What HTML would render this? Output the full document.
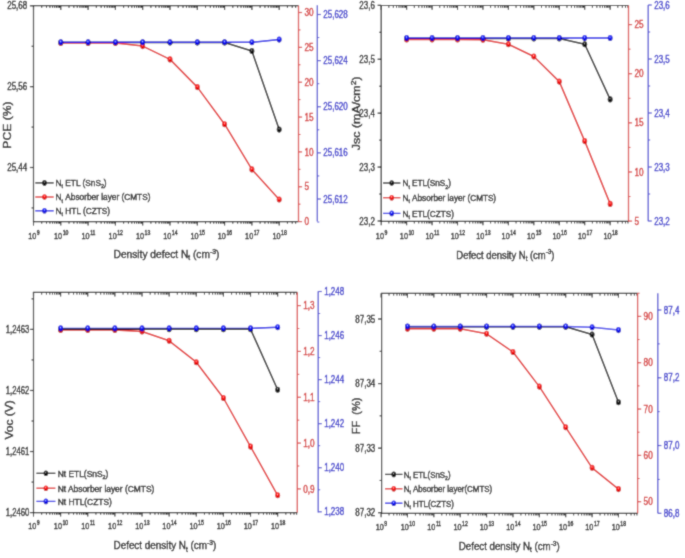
<!DOCTYPE html>
<html><head><meta charset="utf-8"><title>Defect density plots</title>
<style>
html,body{margin:0;padding:0;background:#fff;}
body{width:685px;height:558px;overflow:hidden;}
svg{display:block;font-family:"Liberation Sans", Arial, sans-serif;}
</style></head>
<body>
<svg width="685" height="558" viewBox="0 0 685 558">
<defs><filter id="cv" x="0" y="0" width="685" height="558" filterUnits="userSpaceOnUse"><feConvolveMatrix order="3" kernelMatrix="0.03 0.1 0.03 0.1 0.48 0.1 0.03 0.1 0.03" edgeMode="duplicate"/></filter><radialGradient id="blu" cx="0.5" cy="0.4" r="0.6" fx="0.45" fy="0.32"><stop offset="0" stop-color="#b0c8ff"/><stop offset="0.35" stop-color="#1a1aff"/><stop offset="1" stop-color="#0000b0"/></radialGradient><radialGradient id="red" cx="0.5" cy="0.4" r="0.6" fx="0.45" fy="0.32"><stop offset="0" stop-color="#ffb0b0"/><stop offset="0.35" stop-color="#ff1a1a"/><stop offset="1" stop-color="#c00000"/></radialGradient><radialGradient id="blk" cx="0.5" cy="0.4" r="0.6" fx="0.45" fy="0.32"><stop offset="0" stop-color="#a0a0a0"/><stop offset="0.35" stop-color="#1a1a1a"/><stop offset="1" stop-color="#000000"/></radialGradient></defs>
<g filter="url(#cv)"><rect width="685" height="558" fill="#fff"/>
<line x1="33.50" y1="5.60" x2="33.50" y2="221.60" stroke="#1a1a1a" stroke-width="1.2"/>
<line x1="32.90" y1="221.60" x2="298.50" y2="221.60" stroke="#1a1a1a" stroke-width="1.2"/>
<line x1="32.90" y1="5.60" x2="298.50" y2="5.60" stroke="#1a1a1a" stroke-width="1.2"/>
<line x1="33.50" y1="221.60" x2="33.50" y2="225.60" stroke="#1a1a1a" stroke-width="1.1"/>
<line x1="33.50" y1="5.60" x2="33.50" y2="9.90" stroke="#1a1a1a" stroke-width="1.1"/>
<line x1="41.72" y1="221.60" x2="41.72" y2="223.80" stroke="#1a1a1a" stroke-width="0.9"/>
<line x1="41.72" y1="5.60" x2="41.72" y2="8.00" stroke="#1a1a1a" stroke-width="0.9"/>
<line x1="46.53" y1="221.60" x2="46.53" y2="223.80" stroke="#1a1a1a" stroke-width="0.9"/>
<line x1="46.53" y1="5.60" x2="46.53" y2="8.00" stroke="#1a1a1a" stroke-width="0.9"/>
<line x1="49.94" y1="221.60" x2="49.94" y2="223.80" stroke="#1a1a1a" stroke-width="0.9"/>
<line x1="49.94" y1="5.60" x2="49.94" y2="8.00" stroke="#1a1a1a" stroke-width="0.9"/>
<line x1="52.58" y1="221.60" x2="52.58" y2="223.80" stroke="#1a1a1a" stroke-width="0.9"/>
<line x1="52.58" y1="5.60" x2="52.58" y2="8.00" stroke="#1a1a1a" stroke-width="0.9"/>
<line x1="54.74" y1="221.60" x2="54.74" y2="223.80" stroke="#1a1a1a" stroke-width="0.9"/>
<line x1="54.74" y1="5.60" x2="54.74" y2="8.00" stroke="#1a1a1a" stroke-width="0.9"/>
<line x1="56.57" y1="221.60" x2="56.57" y2="223.80" stroke="#1a1a1a" stroke-width="0.9"/>
<line x1="56.57" y1="5.60" x2="56.57" y2="8.00" stroke="#1a1a1a" stroke-width="0.9"/>
<line x1="58.15" y1="221.60" x2="58.15" y2="223.80" stroke="#1a1a1a" stroke-width="0.9"/>
<line x1="58.15" y1="5.60" x2="58.15" y2="8.00" stroke="#1a1a1a" stroke-width="0.9"/>
<line x1="59.55" y1="221.60" x2="59.55" y2="223.80" stroke="#1a1a1a" stroke-width="0.9"/>
<line x1="59.55" y1="5.60" x2="59.55" y2="8.00" stroke="#1a1a1a" stroke-width="0.9"/>
<line x1="60.80" y1="221.60" x2="60.80" y2="225.60" stroke="#1a1a1a" stroke-width="1.1"/>
<line x1="60.80" y1="5.60" x2="60.80" y2="9.90" stroke="#1a1a1a" stroke-width="1.1"/>
<line x1="69.02" y1="221.60" x2="69.02" y2="223.80" stroke="#1a1a1a" stroke-width="0.9"/>
<line x1="69.02" y1="5.60" x2="69.02" y2="8.00" stroke="#1a1a1a" stroke-width="0.9"/>
<line x1="73.83" y1="221.60" x2="73.83" y2="223.80" stroke="#1a1a1a" stroke-width="0.9"/>
<line x1="73.83" y1="5.60" x2="73.83" y2="8.00" stroke="#1a1a1a" stroke-width="0.9"/>
<line x1="77.24" y1="221.60" x2="77.24" y2="223.80" stroke="#1a1a1a" stroke-width="0.9"/>
<line x1="77.24" y1="5.60" x2="77.24" y2="8.00" stroke="#1a1a1a" stroke-width="0.9"/>
<line x1="79.88" y1="221.60" x2="79.88" y2="223.80" stroke="#1a1a1a" stroke-width="0.9"/>
<line x1="79.88" y1="5.60" x2="79.88" y2="8.00" stroke="#1a1a1a" stroke-width="0.9"/>
<line x1="82.04" y1="221.60" x2="82.04" y2="223.80" stroke="#1a1a1a" stroke-width="0.9"/>
<line x1="82.04" y1="5.60" x2="82.04" y2="8.00" stroke="#1a1a1a" stroke-width="0.9"/>
<line x1="83.87" y1="221.60" x2="83.87" y2="223.80" stroke="#1a1a1a" stroke-width="0.9"/>
<line x1="83.87" y1="5.60" x2="83.87" y2="8.00" stroke="#1a1a1a" stroke-width="0.9"/>
<line x1="85.45" y1="221.60" x2="85.45" y2="223.80" stroke="#1a1a1a" stroke-width="0.9"/>
<line x1="85.45" y1="5.60" x2="85.45" y2="8.00" stroke="#1a1a1a" stroke-width="0.9"/>
<line x1="86.85" y1="221.60" x2="86.85" y2="223.80" stroke="#1a1a1a" stroke-width="0.9"/>
<line x1="86.85" y1="5.60" x2="86.85" y2="8.00" stroke="#1a1a1a" stroke-width="0.9"/>
<line x1="88.10" y1="221.60" x2="88.10" y2="225.60" stroke="#1a1a1a" stroke-width="1.1"/>
<line x1="88.10" y1="5.60" x2="88.10" y2="9.90" stroke="#1a1a1a" stroke-width="1.1"/>
<line x1="96.32" y1="221.60" x2="96.32" y2="223.80" stroke="#1a1a1a" stroke-width="0.9"/>
<line x1="96.32" y1="5.60" x2="96.32" y2="8.00" stroke="#1a1a1a" stroke-width="0.9"/>
<line x1="101.13" y1="221.60" x2="101.13" y2="223.80" stroke="#1a1a1a" stroke-width="0.9"/>
<line x1="101.13" y1="5.60" x2="101.13" y2="8.00" stroke="#1a1a1a" stroke-width="0.9"/>
<line x1="104.54" y1="221.60" x2="104.54" y2="223.80" stroke="#1a1a1a" stroke-width="0.9"/>
<line x1="104.54" y1="5.60" x2="104.54" y2="8.00" stroke="#1a1a1a" stroke-width="0.9"/>
<line x1="107.18" y1="221.60" x2="107.18" y2="223.80" stroke="#1a1a1a" stroke-width="0.9"/>
<line x1="107.18" y1="5.60" x2="107.18" y2="8.00" stroke="#1a1a1a" stroke-width="0.9"/>
<line x1="109.34" y1="221.60" x2="109.34" y2="223.80" stroke="#1a1a1a" stroke-width="0.9"/>
<line x1="109.34" y1="5.60" x2="109.34" y2="8.00" stroke="#1a1a1a" stroke-width="0.9"/>
<line x1="111.17" y1="221.60" x2="111.17" y2="223.80" stroke="#1a1a1a" stroke-width="0.9"/>
<line x1="111.17" y1="5.60" x2="111.17" y2="8.00" stroke="#1a1a1a" stroke-width="0.9"/>
<line x1="112.75" y1="221.60" x2="112.75" y2="223.80" stroke="#1a1a1a" stroke-width="0.9"/>
<line x1="112.75" y1="5.60" x2="112.75" y2="8.00" stroke="#1a1a1a" stroke-width="0.9"/>
<line x1="114.15" y1="221.60" x2="114.15" y2="223.80" stroke="#1a1a1a" stroke-width="0.9"/>
<line x1="114.15" y1="5.60" x2="114.15" y2="8.00" stroke="#1a1a1a" stroke-width="0.9"/>
<line x1="115.40" y1="221.60" x2="115.40" y2="225.60" stroke="#1a1a1a" stroke-width="1.1"/>
<line x1="115.40" y1="5.60" x2="115.40" y2="9.90" stroke="#1a1a1a" stroke-width="1.1"/>
<line x1="123.62" y1="221.60" x2="123.62" y2="223.80" stroke="#1a1a1a" stroke-width="0.9"/>
<line x1="123.62" y1="5.60" x2="123.62" y2="8.00" stroke="#1a1a1a" stroke-width="0.9"/>
<line x1="128.43" y1="221.60" x2="128.43" y2="223.80" stroke="#1a1a1a" stroke-width="0.9"/>
<line x1="128.43" y1="5.60" x2="128.43" y2="8.00" stroke="#1a1a1a" stroke-width="0.9"/>
<line x1="131.84" y1="221.60" x2="131.84" y2="223.80" stroke="#1a1a1a" stroke-width="0.9"/>
<line x1="131.84" y1="5.60" x2="131.84" y2="8.00" stroke="#1a1a1a" stroke-width="0.9"/>
<line x1="134.48" y1="221.60" x2="134.48" y2="223.80" stroke="#1a1a1a" stroke-width="0.9"/>
<line x1="134.48" y1="5.60" x2="134.48" y2="8.00" stroke="#1a1a1a" stroke-width="0.9"/>
<line x1="136.64" y1="221.60" x2="136.64" y2="223.80" stroke="#1a1a1a" stroke-width="0.9"/>
<line x1="136.64" y1="5.60" x2="136.64" y2="8.00" stroke="#1a1a1a" stroke-width="0.9"/>
<line x1="138.47" y1="221.60" x2="138.47" y2="223.80" stroke="#1a1a1a" stroke-width="0.9"/>
<line x1="138.47" y1="5.60" x2="138.47" y2="8.00" stroke="#1a1a1a" stroke-width="0.9"/>
<line x1="140.05" y1="221.60" x2="140.05" y2="223.80" stroke="#1a1a1a" stroke-width="0.9"/>
<line x1="140.05" y1="5.60" x2="140.05" y2="8.00" stroke="#1a1a1a" stroke-width="0.9"/>
<line x1="141.45" y1="221.60" x2="141.45" y2="223.80" stroke="#1a1a1a" stroke-width="0.9"/>
<line x1="141.45" y1="5.60" x2="141.45" y2="8.00" stroke="#1a1a1a" stroke-width="0.9"/>
<line x1="142.70" y1="221.60" x2="142.70" y2="225.60" stroke="#1a1a1a" stroke-width="1.1"/>
<line x1="142.70" y1="5.60" x2="142.70" y2="9.90" stroke="#1a1a1a" stroke-width="1.1"/>
<line x1="150.92" y1="221.60" x2="150.92" y2="223.80" stroke="#1a1a1a" stroke-width="0.9"/>
<line x1="150.92" y1="5.60" x2="150.92" y2="8.00" stroke="#1a1a1a" stroke-width="0.9"/>
<line x1="155.73" y1="221.60" x2="155.73" y2="223.80" stroke="#1a1a1a" stroke-width="0.9"/>
<line x1="155.73" y1="5.60" x2="155.73" y2="8.00" stroke="#1a1a1a" stroke-width="0.9"/>
<line x1="159.14" y1="221.60" x2="159.14" y2="223.80" stroke="#1a1a1a" stroke-width="0.9"/>
<line x1="159.14" y1="5.60" x2="159.14" y2="8.00" stroke="#1a1a1a" stroke-width="0.9"/>
<line x1="161.78" y1="221.60" x2="161.78" y2="223.80" stroke="#1a1a1a" stroke-width="0.9"/>
<line x1="161.78" y1="5.60" x2="161.78" y2="8.00" stroke="#1a1a1a" stroke-width="0.9"/>
<line x1="163.94" y1="221.60" x2="163.94" y2="223.80" stroke="#1a1a1a" stroke-width="0.9"/>
<line x1="163.94" y1="5.60" x2="163.94" y2="8.00" stroke="#1a1a1a" stroke-width="0.9"/>
<line x1="165.77" y1="221.60" x2="165.77" y2="223.80" stroke="#1a1a1a" stroke-width="0.9"/>
<line x1="165.77" y1="5.60" x2="165.77" y2="8.00" stroke="#1a1a1a" stroke-width="0.9"/>
<line x1="167.35" y1="221.60" x2="167.35" y2="223.80" stroke="#1a1a1a" stroke-width="0.9"/>
<line x1="167.35" y1="5.60" x2="167.35" y2="8.00" stroke="#1a1a1a" stroke-width="0.9"/>
<line x1="168.75" y1="221.60" x2="168.75" y2="223.80" stroke="#1a1a1a" stroke-width="0.9"/>
<line x1="168.75" y1="5.60" x2="168.75" y2="8.00" stroke="#1a1a1a" stroke-width="0.9"/>
<line x1="170.00" y1="221.60" x2="170.00" y2="225.60" stroke="#1a1a1a" stroke-width="1.1"/>
<line x1="170.00" y1="5.60" x2="170.00" y2="9.90" stroke="#1a1a1a" stroke-width="1.1"/>
<line x1="178.22" y1="221.60" x2="178.22" y2="223.80" stroke="#1a1a1a" stroke-width="0.9"/>
<line x1="178.22" y1="5.60" x2="178.22" y2="8.00" stroke="#1a1a1a" stroke-width="0.9"/>
<line x1="183.03" y1="221.60" x2="183.03" y2="223.80" stroke="#1a1a1a" stroke-width="0.9"/>
<line x1="183.03" y1="5.60" x2="183.03" y2="8.00" stroke="#1a1a1a" stroke-width="0.9"/>
<line x1="186.44" y1="221.60" x2="186.44" y2="223.80" stroke="#1a1a1a" stroke-width="0.9"/>
<line x1="186.44" y1="5.60" x2="186.44" y2="8.00" stroke="#1a1a1a" stroke-width="0.9"/>
<line x1="189.08" y1="221.60" x2="189.08" y2="223.80" stroke="#1a1a1a" stroke-width="0.9"/>
<line x1="189.08" y1="5.60" x2="189.08" y2="8.00" stroke="#1a1a1a" stroke-width="0.9"/>
<line x1="191.24" y1="221.60" x2="191.24" y2="223.80" stroke="#1a1a1a" stroke-width="0.9"/>
<line x1="191.24" y1="5.60" x2="191.24" y2="8.00" stroke="#1a1a1a" stroke-width="0.9"/>
<line x1="193.07" y1="221.60" x2="193.07" y2="223.80" stroke="#1a1a1a" stroke-width="0.9"/>
<line x1="193.07" y1="5.60" x2="193.07" y2="8.00" stroke="#1a1a1a" stroke-width="0.9"/>
<line x1="194.65" y1="221.60" x2="194.65" y2="223.80" stroke="#1a1a1a" stroke-width="0.9"/>
<line x1="194.65" y1="5.60" x2="194.65" y2="8.00" stroke="#1a1a1a" stroke-width="0.9"/>
<line x1="196.05" y1="221.60" x2="196.05" y2="223.80" stroke="#1a1a1a" stroke-width="0.9"/>
<line x1="196.05" y1="5.60" x2="196.05" y2="8.00" stroke="#1a1a1a" stroke-width="0.9"/>
<line x1="197.30" y1="221.60" x2="197.30" y2="225.60" stroke="#1a1a1a" stroke-width="1.1"/>
<line x1="197.30" y1="5.60" x2="197.30" y2="9.90" stroke="#1a1a1a" stroke-width="1.1"/>
<line x1="205.52" y1="221.60" x2="205.52" y2="223.80" stroke="#1a1a1a" stroke-width="0.9"/>
<line x1="205.52" y1="5.60" x2="205.52" y2="8.00" stroke="#1a1a1a" stroke-width="0.9"/>
<line x1="210.33" y1="221.60" x2="210.33" y2="223.80" stroke="#1a1a1a" stroke-width="0.9"/>
<line x1="210.33" y1="5.60" x2="210.33" y2="8.00" stroke="#1a1a1a" stroke-width="0.9"/>
<line x1="213.74" y1="221.60" x2="213.74" y2="223.80" stroke="#1a1a1a" stroke-width="0.9"/>
<line x1="213.74" y1="5.60" x2="213.74" y2="8.00" stroke="#1a1a1a" stroke-width="0.9"/>
<line x1="216.38" y1="221.60" x2="216.38" y2="223.80" stroke="#1a1a1a" stroke-width="0.9"/>
<line x1="216.38" y1="5.60" x2="216.38" y2="8.00" stroke="#1a1a1a" stroke-width="0.9"/>
<line x1="218.54" y1="221.60" x2="218.54" y2="223.80" stroke="#1a1a1a" stroke-width="0.9"/>
<line x1="218.54" y1="5.60" x2="218.54" y2="8.00" stroke="#1a1a1a" stroke-width="0.9"/>
<line x1="220.37" y1="221.60" x2="220.37" y2="223.80" stroke="#1a1a1a" stroke-width="0.9"/>
<line x1="220.37" y1="5.60" x2="220.37" y2="8.00" stroke="#1a1a1a" stroke-width="0.9"/>
<line x1="221.95" y1="221.60" x2="221.95" y2="223.80" stroke="#1a1a1a" stroke-width="0.9"/>
<line x1="221.95" y1="5.60" x2="221.95" y2="8.00" stroke="#1a1a1a" stroke-width="0.9"/>
<line x1="223.35" y1="221.60" x2="223.35" y2="223.80" stroke="#1a1a1a" stroke-width="0.9"/>
<line x1="223.35" y1="5.60" x2="223.35" y2="8.00" stroke="#1a1a1a" stroke-width="0.9"/>
<line x1="224.60" y1="221.60" x2="224.60" y2="225.60" stroke="#1a1a1a" stroke-width="1.1"/>
<line x1="224.60" y1="5.60" x2="224.60" y2="9.90" stroke="#1a1a1a" stroke-width="1.1"/>
<line x1="232.82" y1="221.60" x2="232.82" y2="223.80" stroke="#1a1a1a" stroke-width="0.9"/>
<line x1="232.82" y1="5.60" x2="232.82" y2="8.00" stroke="#1a1a1a" stroke-width="0.9"/>
<line x1="237.63" y1="221.60" x2="237.63" y2="223.80" stroke="#1a1a1a" stroke-width="0.9"/>
<line x1="237.63" y1="5.60" x2="237.63" y2="8.00" stroke="#1a1a1a" stroke-width="0.9"/>
<line x1="241.04" y1="221.60" x2="241.04" y2="223.80" stroke="#1a1a1a" stroke-width="0.9"/>
<line x1="241.04" y1="5.60" x2="241.04" y2="8.00" stroke="#1a1a1a" stroke-width="0.9"/>
<line x1="243.68" y1="221.60" x2="243.68" y2="223.80" stroke="#1a1a1a" stroke-width="0.9"/>
<line x1="243.68" y1="5.60" x2="243.68" y2="8.00" stroke="#1a1a1a" stroke-width="0.9"/>
<line x1="245.84" y1="221.60" x2="245.84" y2="223.80" stroke="#1a1a1a" stroke-width="0.9"/>
<line x1="245.84" y1="5.60" x2="245.84" y2="8.00" stroke="#1a1a1a" stroke-width="0.9"/>
<line x1="247.67" y1="221.60" x2="247.67" y2="223.80" stroke="#1a1a1a" stroke-width="0.9"/>
<line x1="247.67" y1="5.60" x2="247.67" y2="8.00" stroke="#1a1a1a" stroke-width="0.9"/>
<line x1="249.25" y1="221.60" x2="249.25" y2="223.80" stroke="#1a1a1a" stroke-width="0.9"/>
<line x1="249.25" y1="5.60" x2="249.25" y2="8.00" stroke="#1a1a1a" stroke-width="0.9"/>
<line x1="250.65" y1="221.60" x2="250.65" y2="223.80" stroke="#1a1a1a" stroke-width="0.9"/>
<line x1="250.65" y1="5.60" x2="250.65" y2="8.00" stroke="#1a1a1a" stroke-width="0.9"/>
<line x1="251.90" y1="221.60" x2="251.90" y2="225.60" stroke="#1a1a1a" stroke-width="1.1"/>
<line x1="251.90" y1="5.60" x2="251.90" y2="9.90" stroke="#1a1a1a" stroke-width="1.1"/>
<line x1="260.12" y1="221.60" x2="260.12" y2="223.80" stroke="#1a1a1a" stroke-width="0.9"/>
<line x1="260.12" y1="5.60" x2="260.12" y2="8.00" stroke="#1a1a1a" stroke-width="0.9"/>
<line x1="264.93" y1="221.60" x2="264.93" y2="223.80" stroke="#1a1a1a" stroke-width="0.9"/>
<line x1="264.93" y1="5.60" x2="264.93" y2="8.00" stroke="#1a1a1a" stroke-width="0.9"/>
<line x1="268.34" y1="221.60" x2="268.34" y2="223.80" stroke="#1a1a1a" stroke-width="0.9"/>
<line x1="268.34" y1="5.60" x2="268.34" y2="8.00" stroke="#1a1a1a" stroke-width="0.9"/>
<line x1="270.98" y1="221.60" x2="270.98" y2="223.80" stroke="#1a1a1a" stroke-width="0.9"/>
<line x1="270.98" y1="5.60" x2="270.98" y2="8.00" stroke="#1a1a1a" stroke-width="0.9"/>
<line x1="273.14" y1="221.60" x2="273.14" y2="223.80" stroke="#1a1a1a" stroke-width="0.9"/>
<line x1="273.14" y1="5.60" x2="273.14" y2="8.00" stroke="#1a1a1a" stroke-width="0.9"/>
<line x1="274.97" y1="221.60" x2="274.97" y2="223.80" stroke="#1a1a1a" stroke-width="0.9"/>
<line x1="274.97" y1="5.60" x2="274.97" y2="8.00" stroke="#1a1a1a" stroke-width="0.9"/>
<line x1="276.55" y1="221.60" x2="276.55" y2="223.80" stroke="#1a1a1a" stroke-width="0.9"/>
<line x1="276.55" y1="5.60" x2="276.55" y2="8.00" stroke="#1a1a1a" stroke-width="0.9"/>
<line x1="277.95" y1="221.60" x2="277.95" y2="223.80" stroke="#1a1a1a" stroke-width="0.9"/>
<line x1="277.95" y1="5.60" x2="277.95" y2="8.00" stroke="#1a1a1a" stroke-width="0.9"/>
<line x1="279.20" y1="221.60" x2="279.20" y2="225.60" stroke="#1a1a1a" stroke-width="1.1"/>
<line x1="279.20" y1="5.60" x2="279.20" y2="9.90" stroke="#1a1a1a" stroke-width="1.1"/>
<line x1="287.42" y1="221.60" x2="287.42" y2="223.80" stroke="#1a1a1a" stroke-width="0.9"/>
<line x1="287.42" y1="5.60" x2="287.42" y2="8.00" stroke="#1a1a1a" stroke-width="0.9"/>
<line x1="292.23" y1="221.60" x2="292.23" y2="223.80" stroke="#1a1a1a" stroke-width="0.9"/>
<line x1="292.23" y1="5.60" x2="292.23" y2="8.00" stroke="#1a1a1a" stroke-width="0.9"/>
<line x1="295.64" y1="221.60" x2="295.64" y2="223.80" stroke="#1a1a1a" stroke-width="0.9"/>
<line x1="295.64" y1="5.60" x2="295.64" y2="8.00" stroke="#1a1a1a" stroke-width="0.9"/>
<text transform="translate(33.90,238.70) scale(0.760,1)" font-size="9.6" fill="#1a1a1a" stroke="#1a1a1a" stroke-width="0.4" text-anchor="middle">10<tspan font-size="6.8" dx="0.7" dy="-3.9">9</tspan></text>
<text transform="translate(61.20,238.70) scale(0.760,1)" font-size="9.6" fill="#1a1a1a" stroke="#1a1a1a" stroke-width="0.4" text-anchor="middle">10<tspan font-size="6.8" dx="0.7" dy="-3.9">10</tspan></text>
<text transform="translate(88.50,238.70) scale(0.760,1)" font-size="9.6" fill="#1a1a1a" stroke="#1a1a1a" stroke-width="0.4" text-anchor="middle">10<tspan font-size="6.8" dx="0.7" dy="-3.9">11</tspan></text>
<text transform="translate(115.80,238.70) scale(0.760,1)" font-size="9.6" fill="#1a1a1a" stroke="#1a1a1a" stroke-width="0.4" text-anchor="middle">10<tspan font-size="6.8" dx="0.7" dy="-3.9">12</tspan></text>
<text transform="translate(143.10,238.70) scale(0.760,1)" font-size="9.6" fill="#1a1a1a" stroke="#1a1a1a" stroke-width="0.4" text-anchor="middle">10<tspan font-size="6.8" dx="0.7" dy="-3.9">13</tspan></text>
<text transform="translate(170.40,238.70) scale(0.760,1)" font-size="9.6" fill="#1a1a1a" stroke="#1a1a1a" stroke-width="0.4" text-anchor="middle">10<tspan font-size="6.8" dx="0.7" dy="-3.9">14</tspan></text>
<text transform="translate(197.70,238.70) scale(0.760,1)" font-size="9.6" fill="#1a1a1a" stroke="#1a1a1a" stroke-width="0.4" text-anchor="middle">10<tspan font-size="6.8" dx="0.7" dy="-3.9">15</tspan></text>
<text transform="translate(225.00,238.70) scale(0.760,1)" font-size="9.6" fill="#1a1a1a" stroke="#1a1a1a" stroke-width="0.4" text-anchor="middle">10<tspan font-size="6.8" dx="0.7" dy="-3.9">16</tspan></text>
<text transform="translate(252.30,238.70) scale(0.760,1)" font-size="9.6" fill="#1a1a1a" stroke="#1a1a1a" stroke-width="0.4" text-anchor="middle">10<tspan font-size="6.8" dx="0.7" dy="-3.9">17</tspan></text>
<text transform="translate(279.60,238.70) scale(0.760,1)" font-size="9.6" fill="#1a1a1a" stroke="#1a1a1a" stroke-width="0.4" text-anchor="middle">10<tspan font-size="6.8" dx="0.7" dy="-3.9">18</tspan></text>
<text transform="translate(113.60,257.90) scale(0.878,1)" font-size="11.6" fill="#1a1a1a" stroke="#1a1a1a" stroke-width="0.4" text-anchor="start">Density defect N<tspan font-size="7.5" dy="2.5">t</tspan><tspan dy="-2.5"> (cm</tspan><tspan font-size="7.8" dy="-4.2">-3</tspan><tspan dy="4.2">)</tspan></text>
<line x1="29.90" y1="5.80" x2="33.50" y2="5.80" stroke="#1a1a1a" stroke-width="1.2"/>
<text transform="translate(27.20,9.40) scale(0.800,1)" font-size="10" fill="#1a1a1a" stroke="#1a1a1a" stroke-width="0.4" text-anchor="end">25,68</text>
<line x1="29.90" y1="86.65" x2="33.50" y2="86.65" stroke="#1a1a1a" stroke-width="1.2"/>
<text transform="translate(27.20,90.25) scale(0.800,1)" font-size="10" fill="#1a1a1a" stroke="#1a1a1a" stroke-width="0.4" text-anchor="end">25,56</text>
<line x1="29.90" y1="167.50" x2="33.50" y2="167.50" stroke="#1a1a1a" stroke-width="1.2"/>
<text transform="translate(27.20,171.10) scale(0.800,1)" font-size="10" fill="#1a1a1a" stroke="#1a1a1a" stroke-width="0.4" text-anchor="end">25,44</text>
<line x1="31.50" y1="46.22" x2="33.50" y2="46.22" stroke="#1a1a1a" stroke-width="1.0"/>
<line x1="31.50" y1="127.08" x2="33.50" y2="127.08" stroke="#1a1a1a" stroke-width="1.0"/>
<line x1="31.50" y1="207.93" x2="33.50" y2="207.93" stroke="#1a1a1a" stroke-width="1.0"/>
<text transform="translate(11.40,125.10) rotate(-90) scale(1.130,1)" font-size="10.75" fill="#1a1a1a" stroke="#1a1a1a" stroke-width="0.4" text-anchor="middle">PCE (%)</text>
<line x1="298.50" y1="5.60" x2="298.50" y2="221.60" stroke="#dc4646" stroke-width="1.3"/>
<line x1="298.50" y1="221.60" x2="302.10" y2="221.60" stroke="#dc4646" stroke-width="1.2"/>
<text transform="translate(304.50,225.20) scale(0.820,1)" font-size="10" fill="#d43535" stroke="#d43535" stroke-width="0.4" text-anchor="start">0</text>
<line x1="298.50" y1="186.75" x2="302.10" y2="186.75" stroke="#dc4646" stroke-width="1.2"/>
<text transform="translate(304.50,190.35) scale(0.820,1)" font-size="10" fill="#d43535" stroke="#d43535" stroke-width="0.4" text-anchor="start">5</text>
<line x1="298.50" y1="151.90" x2="302.10" y2="151.90" stroke="#dc4646" stroke-width="1.2"/>
<text transform="translate(304.50,155.50) scale(0.820,1)" font-size="10" fill="#d43535" stroke="#d43535" stroke-width="0.4" text-anchor="start">10</text>
<line x1="298.50" y1="117.05" x2="302.10" y2="117.05" stroke="#dc4646" stroke-width="1.2"/>
<text transform="translate(304.50,120.65) scale(0.820,1)" font-size="10" fill="#d43535" stroke="#d43535" stroke-width="0.4" text-anchor="start">15</text>
<line x1="298.50" y1="82.20" x2="302.10" y2="82.20" stroke="#dc4646" stroke-width="1.2"/>
<text transform="translate(304.50,85.80) scale(0.820,1)" font-size="10" fill="#d43535" stroke="#d43535" stroke-width="0.4" text-anchor="start">20</text>
<line x1="298.50" y1="47.35" x2="302.10" y2="47.35" stroke="#dc4646" stroke-width="1.2"/>
<text transform="translate(304.50,50.95) scale(0.820,1)" font-size="10" fill="#d43535" stroke="#d43535" stroke-width="0.4" text-anchor="start">25</text>
<line x1="298.50" y1="12.50" x2="302.10" y2="12.50" stroke="#dc4646" stroke-width="1.2"/>
<text transform="translate(304.50,16.10) scale(0.820,1)" font-size="10" fill="#d43535" stroke="#d43535" stroke-width="0.4" text-anchor="start">30</text>
<line x1="298.50" y1="204.17" x2="300.50" y2="204.17" stroke="#dc4646" stroke-width="1.0"/>
<line x1="298.50" y1="169.32" x2="300.50" y2="169.32" stroke="#dc4646" stroke-width="1.0"/>
<line x1="298.50" y1="134.47" x2="300.50" y2="134.47" stroke="#dc4646" stroke-width="1.0"/>
<line x1="298.50" y1="99.62" x2="300.50" y2="99.62" stroke="#dc4646" stroke-width="1.0"/>
<line x1="298.50" y1="64.78" x2="300.50" y2="64.78" stroke="#dc4646" stroke-width="1.0"/>
<line x1="298.50" y1="29.93" x2="300.50" y2="29.93" stroke="#dc4646" stroke-width="1.0"/>
<line x1="317.30" y1="5.20" x2="317.30" y2="221.60" stroke="#5050d2" stroke-width="1.3"/>
<line x1="317.30" y1="199.00" x2="320.90" y2="199.00" stroke="#5050d2" stroke-width="1.2"/>
<text transform="translate(323.30,202.60) scale(0.800,1)" font-size="10" fill="#3636cc" stroke="#3636cc" stroke-width="0.4" text-anchor="start">25,612</text>
<line x1="317.30" y1="152.87" x2="320.90" y2="152.87" stroke="#5050d2" stroke-width="1.2"/>
<text transform="translate(323.30,156.47) scale(0.800,1)" font-size="10" fill="#3636cc" stroke="#3636cc" stroke-width="0.4" text-anchor="start">25,616</text>
<line x1="317.30" y1="106.75" x2="320.90" y2="106.75" stroke="#5050d2" stroke-width="1.2"/>
<text transform="translate(323.30,110.35) scale(0.800,1)" font-size="10" fill="#3636cc" stroke="#3636cc" stroke-width="0.4" text-anchor="start">25,620</text>
<line x1="317.30" y1="60.63" x2="320.90" y2="60.63" stroke="#5050d2" stroke-width="1.2"/>
<text transform="translate(323.30,64.23) scale(0.800,1)" font-size="10" fill="#3636cc" stroke="#3636cc" stroke-width="0.4" text-anchor="start">25,624</text>
<line x1="317.30" y1="14.50" x2="320.90" y2="14.50" stroke="#5050d2" stroke-width="1.2"/>
<text transform="translate(323.30,18.10) scale(0.800,1)" font-size="10" fill="#3636cc" stroke="#3636cc" stroke-width="0.4" text-anchor="start">25,628</text>
<line x1="317.30" y1="222.06" x2="319.30" y2="222.06" stroke="#5050d2" stroke-width="1.0"/>
<line x1="317.30" y1="175.94" x2="319.30" y2="175.94" stroke="#5050d2" stroke-width="1.0"/>
<line x1="317.30" y1="129.81" x2="319.30" y2="129.81" stroke="#5050d2" stroke-width="1.0"/>
<line x1="317.30" y1="83.69" x2="319.30" y2="83.69" stroke="#5050d2" stroke-width="1.0"/>
<line x1="317.30" y1="37.56" x2="319.30" y2="37.56" stroke="#5050d2" stroke-width="1.0"/>
<polyline points="60.80,42.50 88.10,42.50 115.40,42.50 142.70,42.50 170.00,42.50 197.30,42.50 224.60,42.50 251.90,51.00 279.20,129.60" fill="none" stroke="#1c1c1c" stroke-width="1.5" stroke-linejoin="round"/>
<polyline points="60.80,43.00 88.10,43.00 115.40,43.00 142.70,46.10 170.00,59.40 197.30,87.10 224.60,124.20 251.90,169.40 279.20,199.50" fill="none" stroke="#e22a2a" stroke-width="1.5" stroke-linejoin="round"/>
<polyline points="60.80,42.30 88.10,42.30 115.40,42.30 142.70,42.30 170.00,42.30 197.30,42.30 224.60,42.30 251.90,42.30 279.20,39.60" fill="none" stroke="#1414e6" stroke-width="1.5" stroke-linejoin="round"/>
<ellipse cx="60.80" cy="42.50" rx="2.45" ry="3.05" fill="url(#blk)"/>
<ellipse cx="88.10" cy="42.50" rx="2.45" ry="3.05" fill="url(#blk)"/>
<ellipse cx="115.40" cy="42.50" rx="2.45" ry="3.05" fill="url(#blk)"/>
<ellipse cx="142.70" cy="42.50" rx="2.45" ry="3.05" fill="url(#blk)"/>
<ellipse cx="170.00" cy="42.50" rx="2.45" ry="3.05" fill="url(#blk)"/>
<ellipse cx="197.30" cy="42.50" rx="2.45" ry="3.05" fill="url(#blk)"/>
<ellipse cx="224.60" cy="42.50" rx="2.45" ry="3.05" fill="url(#blk)"/>
<ellipse cx="251.90" cy="51.00" rx="2.45" ry="3.05" fill="url(#blk)"/>
<ellipse cx="279.20" cy="129.60" rx="2.45" ry="3.05" fill="url(#blk)"/>
<ellipse cx="60.80" cy="43.00" rx="2.45" ry="3.05" fill="url(#red)"/>
<ellipse cx="88.10" cy="43.00" rx="2.45" ry="3.05" fill="url(#red)"/>
<ellipse cx="115.40" cy="43.00" rx="2.45" ry="3.05" fill="url(#red)"/>
<ellipse cx="142.70" cy="46.10" rx="2.45" ry="3.05" fill="url(#red)"/>
<ellipse cx="170.00" cy="59.40" rx="2.45" ry="3.05" fill="url(#red)"/>
<ellipse cx="197.30" cy="87.10" rx="2.45" ry="3.05" fill="url(#red)"/>
<ellipse cx="224.60" cy="124.20" rx="2.45" ry="3.05" fill="url(#red)"/>
<ellipse cx="251.90" cy="169.40" rx="2.45" ry="3.05" fill="url(#red)"/>
<ellipse cx="279.20" cy="199.50" rx="2.45" ry="3.05" fill="url(#red)"/>
<ellipse cx="60.80" cy="42.30" rx="2.45" ry="3.05" fill="url(#blu)"/>
<ellipse cx="88.10" cy="42.30" rx="2.45" ry="3.05" fill="url(#blu)"/>
<ellipse cx="115.40" cy="42.30" rx="2.45" ry="3.05" fill="url(#blu)"/>
<ellipse cx="142.70" cy="42.30" rx="2.45" ry="3.05" fill="url(#blu)"/>
<ellipse cx="170.00" cy="42.30" rx="2.45" ry="3.05" fill="url(#blu)"/>
<ellipse cx="197.30" cy="42.30" rx="2.45" ry="3.05" fill="url(#blu)"/>
<ellipse cx="224.60" cy="42.30" rx="2.45" ry="3.05" fill="url(#blu)"/>
<ellipse cx="251.90" cy="42.30" rx="2.45" ry="3.05" fill="url(#blu)"/>
<ellipse cx="279.20" cy="39.60" rx="2.45" ry="3.05" fill="url(#blu)"/>
<line x1="35.30" y1="182.90" x2="53.70" y2="182.90" stroke="#1c1c1c" stroke-width="1.3"/>
<ellipse cx="44.50" cy="182.90" rx="2.3" ry="2.8" fill="url(#blk)"/>
<text transform="translate(55.60,186.20) scale(0.900,1)" font-size="9.2" fill="#1a1a1a" stroke="#1a1a1a" stroke-width="0.4" text-anchor="start">N<tspan font-size="5.8" dy="2.2">t</tspan><tspan dy="-2.2"> </tspan> ETL (SnS<tspan font-size="5.8" dy="2.2">2</tspan><tspan dy="-2.2">)</tspan></text>
<line x1="35.30" y1="197.00" x2="53.70" y2="197.00" stroke="#e02424" stroke-width="1.3"/>
<ellipse cx="44.50" cy="197.00" rx="2.3" ry="2.8" fill="url(#red)"/>
<text transform="translate(55.60,200.30) scale(0.900,1)" font-size="9.2" fill="#1a1a1a" stroke="#1a1a1a" stroke-width="0.4" text-anchor="start">N<tspan font-size="5.8" dy="2.2">t</tspan><tspan dy="-2.2"> </tspan> Absorber layer (CMTS)</text>
<line x1="35.30" y1="210.80" x2="53.70" y2="210.80" stroke="#1414e6" stroke-width="1.3"/>
<ellipse cx="44.50" cy="210.80" rx="2.3" ry="2.8" fill="url(#blu)"/>
<text transform="translate(55.60,214.10) scale(0.900,1)" font-size="9.2" fill="#1a1a1a" stroke="#1a1a1a" stroke-width="0.4" text-anchor="start">N<tspan font-size="5.8" dy="2.2">t</tspan><tspan dy="-2.2"> </tspan> HTL (CZTS)</text>
<line x1="381.20" y1="5.50" x2="381.20" y2="221.30" stroke="#1a1a1a" stroke-width="1.2"/>
<line x1="380.60" y1="221.30" x2="628.50" y2="221.30" stroke="#1a1a1a" stroke-width="1.2"/>
<line x1="380.60" y1="5.50" x2="628.50" y2="5.50" stroke="#1a1a1a" stroke-width="1.2"/>
<line x1="381.20" y1="221.30" x2="381.20" y2="225.30" stroke="#1a1a1a" stroke-width="1.1"/>
<line x1="381.20" y1="5.50" x2="381.20" y2="9.80" stroke="#1a1a1a" stroke-width="1.1"/>
<line x1="388.86" y1="221.30" x2="388.86" y2="223.50" stroke="#1a1a1a" stroke-width="0.9"/>
<line x1="388.86" y1="5.50" x2="388.86" y2="7.90" stroke="#1a1a1a" stroke-width="0.9"/>
<line x1="393.34" y1="221.30" x2="393.34" y2="223.50" stroke="#1a1a1a" stroke-width="0.9"/>
<line x1="393.34" y1="5.50" x2="393.34" y2="7.90" stroke="#1a1a1a" stroke-width="0.9"/>
<line x1="396.52" y1="221.30" x2="396.52" y2="223.50" stroke="#1a1a1a" stroke-width="0.9"/>
<line x1="396.52" y1="5.50" x2="396.52" y2="7.90" stroke="#1a1a1a" stroke-width="0.9"/>
<line x1="398.98" y1="221.30" x2="398.98" y2="223.50" stroke="#1a1a1a" stroke-width="0.9"/>
<line x1="398.98" y1="5.50" x2="398.98" y2="7.90" stroke="#1a1a1a" stroke-width="0.9"/>
<line x1="401.00" y1="221.30" x2="401.00" y2="223.50" stroke="#1a1a1a" stroke-width="0.9"/>
<line x1="401.00" y1="5.50" x2="401.00" y2="7.90" stroke="#1a1a1a" stroke-width="0.9"/>
<line x1="402.70" y1="221.30" x2="402.70" y2="223.50" stroke="#1a1a1a" stroke-width="0.9"/>
<line x1="402.70" y1="5.50" x2="402.70" y2="7.90" stroke="#1a1a1a" stroke-width="0.9"/>
<line x1="404.17" y1="221.30" x2="404.17" y2="223.50" stroke="#1a1a1a" stroke-width="0.9"/>
<line x1="404.17" y1="5.50" x2="404.17" y2="7.90" stroke="#1a1a1a" stroke-width="0.9"/>
<line x1="405.48" y1="221.30" x2="405.48" y2="223.50" stroke="#1a1a1a" stroke-width="0.9"/>
<line x1="405.48" y1="5.50" x2="405.48" y2="7.90" stroke="#1a1a1a" stroke-width="0.9"/>
<line x1="406.64" y1="221.30" x2="406.64" y2="225.30" stroke="#1a1a1a" stroke-width="1.1"/>
<line x1="406.64" y1="5.50" x2="406.64" y2="9.80" stroke="#1a1a1a" stroke-width="1.1"/>
<line x1="414.30" y1="221.30" x2="414.30" y2="223.50" stroke="#1a1a1a" stroke-width="0.9"/>
<line x1="414.30" y1="5.50" x2="414.30" y2="7.90" stroke="#1a1a1a" stroke-width="0.9"/>
<line x1="418.78" y1="221.30" x2="418.78" y2="223.50" stroke="#1a1a1a" stroke-width="0.9"/>
<line x1="418.78" y1="5.50" x2="418.78" y2="7.90" stroke="#1a1a1a" stroke-width="0.9"/>
<line x1="421.96" y1="221.30" x2="421.96" y2="223.50" stroke="#1a1a1a" stroke-width="0.9"/>
<line x1="421.96" y1="5.50" x2="421.96" y2="7.90" stroke="#1a1a1a" stroke-width="0.9"/>
<line x1="424.42" y1="221.30" x2="424.42" y2="223.50" stroke="#1a1a1a" stroke-width="0.9"/>
<line x1="424.42" y1="5.50" x2="424.42" y2="7.90" stroke="#1a1a1a" stroke-width="0.9"/>
<line x1="426.44" y1="221.30" x2="426.44" y2="223.50" stroke="#1a1a1a" stroke-width="0.9"/>
<line x1="426.44" y1="5.50" x2="426.44" y2="7.90" stroke="#1a1a1a" stroke-width="0.9"/>
<line x1="428.14" y1="221.30" x2="428.14" y2="223.50" stroke="#1a1a1a" stroke-width="0.9"/>
<line x1="428.14" y1="5.50" x2="428.14" y2="7.90" stroke="#1a1a1a" stroke-width="0.9"/>
<line x1="429.61" y1="221.30" x2="429.61" y2="223.50" stroke="#1a1a1a" stroke-width="0.9"/>
<line x1="429.61" y1="5.50" x2="429.61" y2="7.90" stroke="#1a1a1a" stroke-width="0.9"/>
<line x1="430.92" y1="221.30" x2="430.92" y2="223.50" stroke="#1a1a1a" stroke-width="0.9"/>
<line x1="430.92" y1="5.50" x2="430.92" y2="7.90" stroke="#1a1a1a" stroke-width="0.9"/>
<line x1="432.08" y1="221.30" x2="432.08" y2="225.30" stroke="#1a1a1a" stroke-width="1.1"/>
<line x1="432.08" y1="5.50" x2="432.08" y2="9.80" stroke="#1a1a1a" stroke-width="1.1"/>
<line x1="439.74" y1="221.30" x2="439.74" y2="223.50" stroke="#1a1a1a" stroke-width="0.9"/>
<line x1="439.74" y1="5.50" x2="439.74" y2="7.90" stroke="#1a1a1a" stroke-width="0.9"/>
<line x1="444.22" y1="221.30" x2="444.22" y2="223.50" stroke="#1a1a1a" stroke-width="0.9"/>
<line x1="444.22" y1="5.50" x2="444.22" y2="7.90" stroke="#1a1a1a" stroke-width="0.9"/>
<line x1="447.40" y1="221.30" x2="447.40" y2="223.50" stroke="#1a1a1a" stroke-width="0.9"/>
<line x1="447.40" y1="5.50" x2="447.40" y2="7.90" stroke="#1a1a1a" stroke-width="0.9"/>
<line x1="449.86" y1="221.30" x2="449.86" y2="223.50" stroke="#1a1a1a" stroke-width="0.9"/>
<line x1="449.86" y1="5.50" x2="449.86" y2="7.90" stroke="#1a1a1a" stroke-width="0.9"/>
<line x1="451.88" y1="221.30" x2="451.88" y2="223.50" stroke="#1a1a1a" stroke-width="0.9"/>
<line x1="451.88" y1="5.50" x2="451.88" y2="7.90" stroke="#1a1a1a" stroke-width="0.9"/>
<line x1="453.58" y1="221.30" x2="453.58" y2="223.50" stroke="#1a1a1a" stroke-width="0.9"/>
<line x1="453.58" y1="5.50" x2="453.58" y2="7.90" stroke="#1a1a1a" stroke-width="0.9"/>
<line x1="455.05" y1="221.30" x2="455.05" y2="223.50" stroke="#1a1a1a" stroke-width="0.9"/>
<line x1="455.05" y1="5.50" x2="455.05" y2="7.90" stroke="#1a1a1a" stroke-width="0.9"/>
<line x1="456.36" y1="221.30" x2="456.36" y2="223.50" stroke="#1a1a1a" stroke-width="0.9"/>
<line x1="456.36" y1="5.50" x2="456.36" y2="7.90" stroke="#1a1a1a" stroke-width="0.9"/>
<line x1="457.52" y1="221.30" x2="457.52" y2="225.30" stroke="#1a1a1a" stroke-width="1.1"/>
<line x1="457.52" y1="5.50" x2="457.52" y2="9.80" stroke="#1a1a1a" stroke-width="1.1"/>
<line x1="465.18" y1="221.30" x2="465.18" y2="223.50" stroke="#1a1a1a" stroke-width="0.9"/>
<line x1="465.18" y1="5.50" x2="465.18" y2="7.90" stroke="#1a1a1a" stroke-width="0.9"/>
<line x1="469.66" y1="221.30" x2="469.66" y2="223.50" stroke="#1a1a1a" stroke-width="0.9"/>
<line x1="469.66" y1="5.50" x2="469.66" y2="7.90" stroke="#1a1a1a" stroke-width="0.9"/>
<line x1="472.84" y1="221.30" x2="472.84" y2="223.50" stroke="#1a1a1a" stroke-width="0.9"/>
<line x1="472.84" y1="5.50" x2="472.84" y2="7.90" stroke="#1a1a1a" stroke-width="0.9"/>
<line x1="475.30" y1="221.30" x2="475.30" y2="223.50" stroke="#1a1a1a" stroke-width="0.9"/>
<line x1="475.30" y1="5.50" x2="475.30" y2="7.90" stroke="#1a1a1a" stroke-width="0.9"/>
<line x1="477.32" y1="221.30" x2="477.32" y2="223.50" stroke="#1a1a1a" stroke-width="0.9"/>
<line x1="477.32" y1="5.50" x2="477.32" y2="7.90" stroke="#1a1a1a" stroke-width="0.9"/>
<line x1="479.02" y1="221.30" x2="479.02" y2="223.50" stroke="#1a1a1a" stroke-width="0.9"/>
<line x1="479.02" y1="5.50" x2="479.02" y2="7.90" stroke="#1a1a1a" stroke-width="0.9"/>
<line x1="480.49" y1="221.30" x2="480.49" y2="223.50" stroke="#1a1a1a" stroke-width="0.9"/>
<line x1="480.49" y1="5.50" x2="480.49" y2="7.90" stroke="#1a1a1a" stroke-width="0.9"/>
<line x1="481.80" y1="221.30" x2="481.80" y2="223.50" stroke="#1a1a1a" stroke-width="0.9"/>
<line x1="481.80" y1="5.50" x2="481.80" y2="7.90" stroke="#1a1a1a" stroke-width="0.9"/>
<line x1="482.96" y1="221.30" x2="482.96" y2="225.30" stroke="#1a1a1a" stroke-width="1.1"/>
<line x1="482.96" y1="5.50" x2="482.96" y2="9.80" stroke="#1a1a1a" stroke-width="1.1"/>
<line x1="490.62" y1="221.30" x2="490.62" y2="223.50" stroke="#1a1a1a" stroke-width="0.9"/>
<line x1="490.62" y1="5.50" x2="490.62" y2="7.90" stroke="#1a1a1a" stroke-width="0.9"/>
<line x1="495.10" y1="221.30" x2="495.10" y2="223.50" stroke="#1a1a1a" stroke-width="0.9"/>
<line x1="495.10" y1="5.50" x2="495.10" y2="7.90" stroke="#1a1a1a" stroke-width="0.9"/>
<line x1="498.28" y1="221.30" x2="498.28" y2="223.50" stroke="#1a1a1a" stroke-width="0.9"/>
<line x1="498.28" y1="5.50" x2="498.28" y2="7.90" stroke="#1a1a1a" stroke-width="0.9"/>
<line x1="500.74" y1="221.30" x2="500.74" y2="223.50" stroke="#1a1a1a" stroke-width="0.9"/>
<line x1="500.74" y1="5.50" x2="500.74" y2="7.90" stroke="#1a1a1a" stroke-width="0.9"/>
<line x1="502.76" y1="221.30" x2="502.76" y2="223.50" stroke="#1a1a1a" stroke-width="0.9"/>
<line x1="502.76" y1="5.50" x2="502.76" y2="7.90" stroke="#1a1a1a" stroke-width="0.9"/>
<line x1="504.46" y1="221.30" x2="504.46" y2="223.50" stroke="#1a1a1a" stroke-width="0.9"/>
<line x1="504.46" y1="5.50" x2="504.46" y2="7.90" stroke="#1a1a1a" stroke-width="0.9"/>
<line x1="505.93" y1="221.30" x2="505.93" y2="223.50" stroke="#1a1a1a" stroke-width="0.9"/>
<line x1="505.93" y1="5.50" x2="505.93" y2="7.90" stroke="#1a1a1a" stroke-width="0.9"/>
<line x1="507.24" y1="221.30" x2="507.24" y2="223.50" stroke="#1a1a1a" stroke-width="0.9"/>
<line x1="507.24" y1="5.50" x2="507.24" y2="7.90" stroke="#1a1a1a" stroke-width="0.9"/>
<line x1="508.40" y1="221.30" x2="508.40" y2="225.30" stroke="#1a1a1a" stroke-width="1.1"/>
<line x1="508.40" y1="5.50" x2="508.40" y2="9.80" stroke="#1a1a1a" stroke-width="1.1"/>
<line x1="516.06" y1="221.30" x2="516.06" y2="223.50" stroke="#1a1a1a" stroke-width="0.9"/>
<line x1="516.06" y1="5.50" x2="516.06" y2="7.90" stroke="#1a1a1a" stroke-width="0.9"/>
<line x1="520.54" y1="221.30" x2="520.54" y2="223.50" stroke="#1a1a1a" stroke-width="0.9"/>
<line x1="520.54" y1="5.50" x2="520.54" y2="7.90" stroke="#1a1a1a" stroke-width="0.9"/>
<line x1="523.72" y1="221.30" x2="523.72" y2="223.50" stroke="#1a1a1a" stroke-width="0.9"/>
<line x1="523.72" y1="5.50" x2="523.72" y2="7.90" stroke="#1a1a1a" stroke-width="0.9"/>
<line x1="526.18" y1="221.30" x2="526.18" y2="223.50" stroke="#1a1a1a" stroke-width="0.9"/>
<line x1="526.18" y1="5.50" x2="526.18" y2="7.90" stroke="#1a1a1a" stroke-width="0.9"/>
<line x1="528.20" y1="221.30" x2="528.20" y2="223.50" stroke="#1a1a1a" stroke-width="0.9"/>
<line x1="528.20" y1="5.50" x2="528.20" y2="7.90" stroke="#1a1a1a" stroke-width="0.9"/>
<line x1="529.90" y1="221.30" x2="529.90" y2="223.50" stroke="#1a1a1a" stroke-width="0.9"/>
<line x1="529.90" y1="5.50" x2="529.90" y2="7.90" stroke="#1a1a1a" stroke-width="0.9"/>
<line x1="531.37" y1="221.30" x2="531.37" y2="223.50" stroke="#1a1a1a" stroke-width="0.9"/>
<line x1="531.37" y1="5.50" x2="531.37" y2="7.90" stroke="#1a1a1a" stroke-width="0.9"/>
<line x1="532.68" y1="221.30" x2="532.68" y2="223.50" stroke="#1a1a1a" stroke-width="0.9"/>
<line x1="532.68" y1="5.50" x2="532.68" y2="7.90" stroke="#1a1a1a" stroke-width="0.9"/>
<line x1="533.84" y1="221.30" x2="533.84" y2="225.30" stroke="#1a1a1a" stroke-width="1.1"/>
<line x1="533.84" y1="5.50" x2="533.84" y2="9.80" stroke="#1a1a1a" stroke-width="1.1"/>
<line x1="541.50" y1="221.30" x2="541.50" y2="223.50" stroke="#1a1a1a" stroke-width="0.9"/>
<line x1="541.50" y1="5.50" x2="541.50" y2="7.90" stroke="#1a1a1a" stroke-width="0.9"/>
<line x1="545.98" y1="221.30" x2="545.98" y2="223.50" stroke="#1a1a1a" stroke-width="0.9"/>
<line x1="545.98" y1="5.50" x2="545.98" y2="7.90" stroke="#1a1a1a" stroke-width="0.9"/>
<line x1="549.16" y1="221.30" x2="549.16" y2="223.50" stroke="#1a1a1a" stroke-width="0.9"/>
<line x1="549.16" y1="5.50" x2="549.16" y2="7.90" stroke="#1a1a1a" stroke-width="0.9"/>
<line x1="551.62" y1="221.30" x2="551.62" y2="223.50" stroke="#1a1a1a" stroke-width="0.9"/>
<line x1="551.62" y1="5.50" x2="551.62" y2="7.90" stroke="#1a1a1a" stroke-width="0.9"/>
<line x1="553.64" y1="221.30" x2="553.64" y2="223.50" stroke="#1a1a1a" stroke-width="0.9"/>
<line x1="553.64" y1="5.50" x2="553.64" y2="7.90" stroke="#1a1a1a" stroke-width="0.9"/>
<line x1="555.34" y1="221.30" x2="555.34" y2="223.50" stroke="#1a1a1a" stroke-width="0.9"/>
<line x1="555.34" y1="5.50" x2="555.34" y2="7.90" stroke="#1a1a1a" stroke-width="0.9"/>
<line x1="556.81" y1="221.30" x2="556.81" y2="223.50" stroke="#1a1a1a" stroke-width="0.9"/>
<line x1="556.81" y1="5.50" x2="556.81" y2="7.90" stroke="#1a1a1a" stroke-width="0.9"/>
<line x1="558.12" y1="221.30" x2="558.12" y2="223.50" stroke="#1a1a1a" stroke-width="0.9"/>
<line x1="558.12" y1="5.50" x2="558.12" y2="7.90" stroke="#1a1a1a" stroke-width="0.9"/>
<line x1="559.28" y1="221.30" x2="559.28" y2="225.30" stroke="#1a1a1a" stroke-width="1.1"/>
<line x1="559.28" y1="5.50" x2="559.28" y2="9.80" stroke="#1a1a1a" stroke-width="1.1"/>
<line x1="566.94" y1="221.30" x2="566.94" y2="223.50" stroke="#1a1a1a" stroke-width="0.9"/>
<line x1="566.94" y1="5.50" x2="566.94" y2="7.90" stroke="#1a1a1a" stroke-width="0.9"/>
<line x1="571.42" y1="221.30" x2="571.42" y2="223.50" stroke="#1a1a1a" stroke-width="0.9"/>
<line x1="571.42" y1="5.50" x2="571.42" y2="7.90" stroke="#1a1a1a" stroke-width="0.9"/>
<line x1="574.60" y1="221.30" x2="574.60" y2="223.50" stroke="#1a1a1a" stroke-width="0.9"/>
<line x1="574.60" y1="5.50" x2="574.60" y2="7.90" stroke="#1a1a1a" stroke-width="0.9"/>
<line x1="577.06" y1="221.30" x2="577.06" y2="223.50" stroke="#1a1a1a" stroke-width="0.9"/>
<line x1="577.06" y1="5.50" x2="577.06" y2="7.90" stroke="#1a1a1a" stroke-width="0.9"/>
<line x1="579.08" y1="221.30" x2="579.08" y2="223.50" stroke="#1a1a1a" stroke-width="0.9"/>
<line x1="579.08" y1="5.50" x2="579.08" y2="7.90" stroke="#1a1a1a" stroke-width="0.9"/>
<line x1="580.78" y1="221.30" x2="580.78" y2="223.50" stroke="#1a1a1a" stroke-width="0.9"/>
<line x1="580.78" y1="5.50" x2="580.78" y2="7.90" stroke="#1a1a1a" stroke-width="0.9"/>
<line x1="582.25" y1="221.30" x2="582.25" y2="223.50" stroke="#1a1a1a" stroke-width="0.9"/>
<line x1="582.25" y1="5.50" x2="582.25" y2="7.90" stroke="#1a1a1a" stroke-width="0.9"/>
<line x1="583.56" y1="221.30" x2="583.56" y2="223.50" stroke="#1a1a1a" stroke-width="0.9"/>
<line x1="583.56" y1="5.50" x2="583.56" y2="7.90" stroke="#1a1a1a" stroke-width="0.9"/>
<line x1="584.72" y1="221.30" x2="584.72" y2="225.30" stroke="#1a1a1a" stroke-width="1.1"/>
<line x1="584.72" y1="5.50" x2="584.72" y2="9.80" stroke="#1a1a1a" stroke-width="1.1"/>
<line x1="592.38" y1="221.30" x2="592.38" y2="223.50" stroke="#1a1a1a" stroke-width="0.9"/>
<line x1="592.38" y1="5.50" x2="592.38" y2="7.90" stroke="#1a1a1a" stroke-width="0.9"/>
<line x1="596.86" y1="221.30" x2="596.86" y2="223.50" stroke="#1a1a1a" stroke-width="0.9"/>
<line x1="596.86" y1="5.50" x2="596.86" y2="7.90" stroke="#1a1a1a" stroke-width="0.9"/>
<line x1="600.04" y1="221.30" x2="600.04" y2="223.50" stroke="#1a1a1a" stroke-width="0.9"/>
<line x1="600.04" y1="5.50" x2="600.04" y2="7.90" stroke="#1a1a1a" stroke-width="0.9"/>
<line x1="602.50" y1="221.30" x2="602.50" y2="223.50" stroke="#1a1a1a" stroke-width="0.9"/>
<line x1="602.50" y1="5.50" x2="602.50" y2="7.90" stroke="#1a1a1a" stroke-width="0.9"/>
<line x1="604.52" y1="221.30" x2="604.52" y2="223.50" stroke="#1a1a1a" stroke-width="0.9"/>
<line x1="604.52" y1="5.50" x2="604.52" y2="7.90" stroke="#1a1a1a" stroke-width="0.9"/>
<line x1="606.22" y1="221.30" x2="606.22" y2="223.50" stroke="#1a1a1a" stroke-width="0.9"/>
<line x1="606.22" y1="5.50" x2="606.22" y2="7.90" stroke="#1a1a1a" stroke-width="0.9"/>
<line x1="607.69" y1="221.30" x2="607.69" y2="223.50" stroke="#1a1a1a" stroke-width="0.9"/>
<line x1="607.69" y1="5.50" x2="607.69" y2="7.90" stroke="#1a1a1a" stroke-width="0.9"/>
<line x1="609.00" y1="221.30" x2="609.00" y2="223.50" stroke="#1a1a1a" stroke-width="0.9"/>
<line x1="609.00" y1="5.50" x2="609.00" y2="7.90" stroke="#1a1a1a" stroke-width="0.9"/>
<line x1="610.16" y1="221.30" x2="610.16" y2="225.30" stroke="#1a1a1a" stroke-width="1.1"/>
<line x1="610.16" y1="5.50" x2="610.16" y2="9.80" stroke="#1a1a1a" stroke-width="1.1"/>
<line x1="617.82" y1="221.30" x2="617.82" y2="223.50" stroke="#1a1a1a" stroke-width="0.9"/>
<line x1="617.82" y1="5.50" x2="617.82" y2="7.90" stroke="#1a1a1a" stroke-width="0.9"/>
<line x1="622.30" y1="221.30" x2="622.30" y2="223.50" stroke="#1a1a1a" stroke-width="0.9"/>
<line x1="622.30" y1="5.50" x2="622.30" y2="7.90" stroke="#1a1a1a" stroke-width="0.9"/>
<line x1="625.48" y1="221.30" x2="625.48" y2="223.50" stroke="#1a1a1a" stroke-width="0.9"/>
<line x1="625.48" y1="5.50" x2="625.48" y2="7.90" stroke="#1a1a1a" stroke-width="0.9"/>
<line x1="627.94" y1="221.30" x2="627.94" y2="223.50" stroke="#1a1a1a" stroke-width="0.9"/>
<line x1="627.94" y1="5.50" x2="627.94" y2="7.90" stroke="#1a1a1a" stroke-width="0.9"/>
<text transform="translate(381.60,238.50) scale(0.760,1)" font-size="9.6" fill="#1a1a1a" stroke="#1a1a1a" stroke-width="0.4" text-anchor="middle">10<tspan font-size="6.8" dx="0.7" dy="-3.9">9</tspan></text>
<text transform="translate(407.04,238.50) scale(0.760,1)" font-size="9.6" fill="#1a1a1a" stroke="#1a1a1a" stroke-width="0.4" text-anchor="middle">10<tspan font-size="6.8" dx="0.7" dy="-3.9">10</tspan></text>
<text transform="translate(432.48,238.50) scale(0.760,1)" font-size="9.6" fill="#1a1a1a" stroke="#1a1a1a" stroke-width="0.4" text-anchor="middle">10<tspan font-size="6.8" dx="0.7" dy="-3.9">11</tspan></text>
<text transform="translate(457.92,238.50) scale(0.760,1)" font-size="9.6" fill="#1a1a1a" stroke="#1a1a1a" stroke-width="0.4" text-anchor="middle">10<tspan font-size="6.8" dx="0.7" dy="-3.9">12</tspan></text>
<text transform="translate(483.36,238.50) scale(0.760,1)" font-size="9.6" fill="#1a1a1a" stroke="#1a1a1a" stroke-width="0.4" text-anchor="middle">10<tspan font-size="6.8" dx="0.7" dy="-3.9">13</tspan></text>
<text transform="translate(508.80,238.50) scale(0.760,1)" font-size="9.6" fill="#1a1a1a" stroke="#1a1a1a" stroke-width="0.4" text-anchor="middle">10<tspan font-size="6.8" dx="0.7" dy="-3.9">14</tspan></text>
<text transform="translate(534.24,238.50) scale(0.760,1)" font-size="9.6" fill="#1a1a1a" stroke="#1a1a1a" stroke-width="0.4" text-anchor="middle">10<tspan font-size="6.8" dx="0.7" dy="-3.9">15</tspan></text>
<text transform="translate(559.68,238.50) scale(0.760,1)" font-size="9.6" fill="#1a1a1a" stroke="#1a1a1a" stroke-width="0.4" text-anchor="middle">10<tspan font-size="6.8" dx="0.7" dy="-3.9">16</tspan></text>
<text transform="translate(585.12,238.50) scale(0.760,1)" font-size="9.6" fill="#1a1a1a" stroke="#1a1a1a" stroke-width="0.4" text-anchor="middle">10<tspan font-size="6.8" dx="0.7" dy="-3.9">17</tspan></text>
<text transform="translate(610.56,238.50) scale(0.760,1)" font-size="9.6" fill="#1a1a1a" stroke="#1a1a1a" stroke-width="0.4" text-anchor="middle">10<tspan font-size="6.8" dx="0.7" dy="-3.9">18</tspan></text>
<text transform="translate(456.30,258.50) scale(0.815,1)" font-size="11.6" fill="#1a1a1a" stroke="#1a1a1a" stroke-width="0.4" text-anchor="start">Defect density N<tspan font-size="7.5" dy="2.5">t</tspan><tspan dy="-2.5"> (cm</tspan><tspan font-size="7.8" dy="-4.2">-3</tspan><tspan dy="4.2">)</tspan></text>
<line x1="377.60" y1="5.30" x2="381.20" y2="5.30" stroke="#1a1a1a" stroke-width="1.2"/>
<text transform="translate(374.90,8.90) scale(0.800,1)" font-size="10" fill="#1a1a1a" stroke="#1a1a1a" stroke-width="0.4" text-anchor="end">23,6</text>
<line x1="377.60" y1="59.23" x2="381.20" y2="59.23" stroke="#1a1a1a" stroke-width="1.2"/>
<text transform="translate(374.90,62.83) scale(0.800,1)" font-size="10" fill="#1a1a1a" stroke="#1a1a1a" stroke-width="0.4" text-anchor="end">23,5</text>
<line x1="377.60" y1="113.15" x2="381.20" y2="113.15" stroke="#1a1a1a" stroke-width="1.2"/>
<text transform="translate(374.90,116.75) scale(0.800,1)" font-size="10" fill="#1a1a1a" stroke="#1a1a1a" stroke-width="0.4" text-anchor="end">23,4</text>
<line x1="377.60" y1="167.07" x2="381.20" y2="167.07" stroke="#1a1a1a" stroke-width="1.2"/>
<text transform="translate(374.90,170.67) scale(0.800,1)" font-size="10" fill="#1a1a1a" stroke="#1a1a1a" stroke-width="0.4" text-anchor="end">23,3</text>
<line x1="377.60" y1="221.00" x2="381.20" y2="221.00" stroke="#1a1a1a" stroke-width="1.2"/>
<text transform="translate(374.90,224.60) scale(0.800,1)" font-size="10" fill="#1a1a1a" stroke="#1a1a1a" stroke-width="0.4" text-anchor="end">23,2</text>
<line x1="379.20" y1="32.26" x2="381.20" y2="32.26" stroke="#1a1a1a" stroke-width="1.0"/>
<line x1="379.20" y1="86.19" x2="381.20" y2="86.19" stroke="#1a1a1a" stroke-width="1.0"/>
<line x1="379.20" y1="140.11" x2="381.20" y2="140.11" stroke="#1a1a1a" stroke-width="1.0"/>
<line x1="379.20" y1="194.04" x2="381.20" y2="194.04" stroke="#1a1a1a" stroke-width="1.0"/>
<text transform="translate(359.60,113.30) rotate(-90) scale(1.220,1)" font-size="10.2" fill="#1a1a1a" stroke="#1a1a1a" stroke-width="0.4" text-anchor="middle">Jsc (mA/cm<tspan font-size="7" dy="-4">2</tspan><tspan dy="4">)</tspan></text>
<line x1="628.50" y1="5.50" x2="628.50" y2="221.30" stroke="#dc4646" stroke-width="1.3"/>
<line x1="628.50" y1="221.10" x2="632.10" y2="221.10" stroke="#dc4646" stroke-width="1.2"/>
<text transform="translate(634.50,224.70) scale(0.820,1)" font-size="10" fill="#d43535" stroke="#d43535" stroke-width="0.4" text-anchor="start">5</text>
<line x1="628.50" y1="171.97" x2="632.10" y2="171.97" stroke="#dc4646" stroke-width="1.2"/>
<text transform="translate(634.50,175.57) scale(0.820,1)" font-size="10" fill="#d43535" stroke="#d43535" stroke-width="0.4" text-anchor="start">10</text>
<line x1="628.50" y1="122.85" x2="632.10" y2="122.85" stroke="#dc4646" stroke-width="1.2"/>
<text transform="translate(634.50,126.45) scale(0.820,1)" font-size="10" fill="#d43535" stroke="#d43535" stroke-width="0.4" text-anchor="start">15</text>
<line x1="628.50" y1="73.72" x2="632.10" y2="73.72" stroke="#dc4646" stroke-width="1.2"/>
<text transform="translate(634.50,77.32) scale(0.820,1)" font-size="10" fill="#d43535" stroke="#d43535" stroke-width="0.4" text-anchor="start">20</text>
<line x1="628.50" y1="24.60" x2="632.10" y2="24.60" stroke="#dc4646" stroke-width="1.2"/>
<text transform="translate(634.50,28.20) scale(0.820,1)" font-size="10" fill="#d43535" stroke="#d43535" stroke-width="0.4" text-anchor="start">25</text>
<line x1="628.50" y1="196.54" x2="630.50" y2="196.54" stroke="#dc4646" stroke-width="1.0"/>
<line x1="628.50" y1="147.41" x2="630.50" y2="147.41" stroke="#dc4646" stroke-width="1.0"/>
<line x1="628.50" y1="98.29" x2="630.50" y2="98.29" stroke="#dc4646" stroke-width="1.0"/>
<line x1="628.50" y1="49.16" x2="630.50" y2="49.16" stroke="#dc4646" stroke-width="1.0"/>
<line x1="648.20" y1="5.00" x2="648.20" y2="221.30" stroke="#5050d2" stroke-width="1.3"/>
<line x1="648.20" y1="221.00" x2="651.80" y2="221.00" stroke="#5050d2" stroke-width="1.2"/>
<text transform="translate(654.20,224.60) scale(0.800,1)" font-size="10" fill="#3636cc" stroke="#3636cc" stroke-width="0.4" text-anchor="start">23,2</text>
<line x1="648.20" y1="167.00" x2="651.80" y2="167.00" stroke="#5050d2" stroke-width="1.2"/>
<text transform="translate(654.20,170.60) scale(0.800,1)" font-size="10" fill="#3636cc" stroke="#3636cc" stroke-width="0.4" text-anchor="start">23,3</text>
<line x1="648.20" y1="113.00" x2="651.80" y2="113.00" stroke="#5050d2" stroke-width="1.2"/>
<text transform="translate(654.20,116.60) scale(0.800,1)" font-size="10" fill="#3636cc" stroke="#3636cc" stroke-width="0.4" text-anchor="start">23,4</text>
<line x1="648.20" y1="59.00" x2="651.80" y2="59.00" stroke="#5050d2" stroke-width="1.2"/>
<text transform="translate(654.20,62.60) scale(0.800,1)" font-size="10" fill="#3636cc" stroke="#3636cc" stroke-width="0.4" text-anchor="start">23,5</text>
<line x1="648.20" y1="5.00" x2="651.80" y2="5.00" stroke="#5050d2" stroke-width="1.2"/>
<text transform="translate(654.20,8.60) scale(0.800,1)" font-size="10" fill="#3636cc" stroke="#3636cc" stroke-width="0.4" text-anchor="start">23,6</text>
<line x1="648.20" y1="194.00" x2="650.20" y2="194.00" stroke="#5050d2" stroke-width="1.0"/>
<line x1="648.20" y1="140.00" x2="650.20" y2="140.00" stroke="#5050d2" stroke-width="1.0"/>
<line x1="648.20" y1="86.00" x2="650.20" y2="86.00" stroke="#5050d2" stroke-width="1.0"/>
<line x1="648.20" y1="32.00" x2="650.20" y2="32.00" stroke="#5050d2" stroke-width="1.0"/>
<polyline points="406.64,38.50 432.08,38.50 457.52,38.50 482.96,38.50 508.40,38.50 533.84,38.50 559.28,38.50 584.72,44.30 610.16,99.40" fill="none" stroke="#1c1c1c" stroke-width="1.5" stroke-linejoin="round"/>
<polyline points="406.64,39.50 432.08,39.50 457.52,39.50 482.96,39.70 508.40,44.30 533.84,56.50 559.28,81.60 584.72,141.10 610.16,203.90" fill="none" stroke="#e22a2a" stroke-width="1.5" stroke-linejoin="round"/>
<polyline points="406.64,38.00 432.08,38.00 457.52,38.00 482.96,38.00 508.40,38.00 533.84,38.00 559.28,38.00 584.72,38.00 610.16,38.00" fill="none" stroke="#1414e6" stroke-width="1.5" stroke-linejoin="round"/>
<ellipse cx="406.64" cy="38.50" rx="2.45" ry="3.05" fill="url(#blk)"/>
<ellipse cx="432.08" cy="38.50" rx="2.45" ry="3.05" fill="url(#blk)"/>
<ellipse cx="457.52" cy="38.50" rx="2.45" ry="3.05" fill="url(#blk)"/>
<ellipse cx="482.96" cy="38.50" rx="2.45" ry="3.05" fill="url(#blk)"/>
<ellipse cx="508.40" cy="38.50" rx="2.45" ry="3.05" fill="url(#blk)"/>
<ellipse cx="533.84" cy="38.50" rx="2.45" ry="3.05" fill="url(#blk)"/>
<ellipse cx="559.28" cy="38.50" rx="2.45" ry="3.05" fill="url(#blk)"/>
<ellipse cx="584.72" cy="44.30" rx="2.45" ry="3.05" fill="url(#blk)"/>
<ellipse cx="610.16" cy="99.40" rx="2.45" ry="3.05" fill="url(#blk)"/>
<ellipse cx="406.64" cy="39.50" rx="2.45" ry="3.05" fill="url(#red)"/>
<ellipse cx="432.08" cy="39.50" rx="2.45" ry="3.05" fill="url(#red)"/>
<ellipse cx="457.52" cy="39.50" rx="2.45" ry="3.05" fill="url(#red)"/>
<ellipse cx="482.96" cy="39.70" rx="2.45" ry="3.05" fill="url(#red)"/>
<ellipse cx="508.40" cy="44.30" rx="2.45" ry="3.05" fill="url(#red)"/>
<ellipse cx="533.84" cy="56.50" rx="2.45" ry="3.05" fill="url(#red)"/>
<ellipse cx="559.28" cy="81.60" rx="2.45" ry="3.05" fill="url(#red)"/>
<ellipse cx="584.72" cy="141.10" rx="2.45" ry="3.05" fill="url(#red)"/>
<ellipse cx="610.16" cy="203.90" rx="2.45" ry="3.05" fill="url(#red)"/>
<ellipse cx="406.64" cy="38.00" rx="2.45" ry="3.05" fill="url(#blu)"/>
<ellipse cx="432.08" cy="38.00" rx="2.45" ry="3.05" fill="url(#blu)"/>
<ellipse cx="457.52" cy="38.00" rx="2.45" ry="3.05" fill="url(#blu)"/>
<ellipse cx="482.96" cy="38.00" rx="2.45" ry="3.05" fill="url(#blu)"/>
<ellipse cx="508.40" cy="38.00" rx="2.45" ry="3.05" fill="url(#blu)"/>
<ellipse cx="533.84" cy="38.00" rx="2.45" ry="3.05" fill="url(#blu)"/>
<ellipse cx="559.28" cy="38.00" rx="2.45" ry="3.05" fill="url(#blu)"/>
<ellipse cx="584.72" cy="38.00" rx="2.45" ry="3.05" fill="url(#blu)"/>
<ellipse cx="610.16" cy="38.00" rx="2.45" ry="3.05" fill="url(#blu)"/>
<line x1="383.00" y1="183.00" x2="400.40" y2="183.00" stroke="#1c1c1c" stroke-width="1.3"/>
<ellipse cx="391.70" cy="183.00" rx="2.3" ry="2.8" fill="url(#blk)"/>
<text transform="translate(402.50,186.30) scale(0.890,1)" font-size="9.2" fill="#1a1a1a" stroke="#1a1a1a" stroke-width="0.4" text-anchor="start">N<tspan font-size="5.8" dy="2.2">t</tspan><tspan dy="-2.2"> </tspan> ETL(SnS<tspan font-size="5.8" dy="2.2">2</tspan><tspan dy="-2.2">)</tspan></text>
<line x1="383.00" y1="197.70" x2="400.40" y2="197.70" stroke="#e02424" stroke-width="1.3"/>
<ellipse cx="391.70" cy="197.70" rx="2.3" ry="2.8" fill="url(#red)"/>
<text transform="translate(402.50,201.00) scale(0.890,1)" font-size="9.2" fill="#1a1a1a" stroke="#1a1a1a" stroke-width="0.4" text-anchor="start">N<tspan font-size="5.8" dy="2.2">t</tspan><tspan dy="-2.2"> </tspan> Absorber layer (CMTS)</text>
<line x1="383.00" y1="213.40" x2="400.40" y2="213.40" stroke="#1414e6" stroke-width="1.3"/>
<ellipse cx="391.70" cy="213.40" rx="2.3" ry="2.8" fill="url(#blu)"/>
<text transform="translate(402.50,216.70) scale(0.890,1)" font-size="9.2" fill="#1a1a1a" stroke="#1a1a1a" stroke-width="0.4" text-anchor="start">N<tspan font-size="5.8" dy="2.2">t</tspan><tspan dy="-2.2"> </tspan> ETL(CZTS)</text>
<line x1="33.50" y1="292.30" x2="33.50" y2="512.60" stroke="#1a1a1a" stroke-width="1.2"/>
<line x1="32.90" y1="512.60" x2="297.30" y2="512.60" stroke="#1a1a1a" stroke-width="1.2"/>
<line x1="32.90" y1="292.30" x2="297.30" y2="292.30" stroke="#1a1a1a" stroke-width="1.2"/>
<line x1="33.50" y1="512.60" x2="33.50" y2="516.60" stroke="#1a1a1a" stroke-width="1.1"/>
<line x1="33.50" y1="292.30" x2="33.50" y2="296.60" stroke="#1a1a1a" stroke-width="1.1"/>
<line x1="41.67" y1="512.60" x2="41.67" y2="514.80" stroke="#1a1a1a" stroke-width="0.9"/>
<line x1="41.67" y1="292.30" x2="41.67" y2="294.70" stroke="#1a1a1a" stroke-width="0.9"/>
<line x1="46.44" y1="512.60" x2="46.44" y2="514.80" stroke="#1a1a1a" stroke-width="0.9"/>
<line x1="46.44" y1="292.30" x2="46.44" y2="294.70" stroke="#1a1a1a" stroke-width="0.9"/>
<line x1="49.83" y1="512.60" x2="49.83" y2="514.80" stroke="#1a1a1a" stroke-width="0.9"/>
<line x1="49.83" y1="292.30" x2="49.83" y2="294.70" stroke="#1a1a1a" stroke-width="0.9"/>
<line x1="52.46" y1="512.60" x2="52.46" y2="514.80" stroke="#1a1a1a" stroke-width="0.9"/>
<line x1="52.46" y1="292.30" x2="52.46" y2="294.70" stroke="#1a1a1a" stroke-width="0.9"/>
<line x1="54.61" y1="512.60" x2="54.61" y2="514.80" stroke="#1a1a1a" stroke-width="0.9"/>
<line x1="54.61" y1="292.30" x2="54.61" y2="294.70" stroke="#1a1a1a" stroke-width="0.9"/>
<line x1="56.43" y1="512.60" x2="56.43" y2="514.80" stroke="#1a1a1a" stroke-width="0.9"/>
<line x1="56.43" y1="292.30" x2="56.43" y2="294.70" stroke="#1a1a1a" stroke-width="0.9"/>
<line x1="58.00" y1="512.60" x2="58.00" y2="514.80" stroke="#1a1a1a" stroke-width="0.9"/>
<line x1="58.00" y1="292.30" x2="58.00" y2="294.70" stroke="#1a1a1a" stroke-width="0.9"/>
<line x1="59.39" y1="512.60" x2="59.39" y2="514.80" stroke="#1a1a1a" stroke-width="0.9"/>
<line x1="59.39" y1="292.30" x2="59.39" y2="294.70" stroke="#1a1a1a" stroke-width="0.9"/>
<line x1="60.63" y1="512.60" x2="60.63" y2="516.60" stroke="#1a1a1a" stroke-width="1.1"/>
<line x1="60.63" y1="292.30" x2="60.63" y2="296.60" stroke="#1a1a1a" stroke-width="1.1"/>
<line x1="68.80" y1="512.60" x2="68.80" y2="514.80" stroke="#1a1a1a" stroke-width="0.9"/>
<line x1="68.80" y1="292.30" x2="68.80" y2="294.70" stroke="#1a1a1a" stroke-width="0.9"/>
<line x1="73.57" y1="512.60" x2="73.57" y2="514.80" stroke="#1a1a1a" stroke-width="0.9"/>
<line x1="73.57" y1="292.30" x2="73.57" y2="294.70" stroke="#1a1a1a" stroke-width="0.9"/>
<line x1="76.96" y1="512.60" x2="76.96" y2="514.80" stroke="#1a1a1a" stroke-width="0.9"/>
<line x1="76.96" y1="292.30" x2="76.96" y2="294.70" stroke="#1a1a1a" stroke-width="0.9"/>
<line x1="79.59" y1="512.60" x2="79.59" y2="514.80" stroke="#1a1a1a" stroke-width="0.9"/>
<line x1="79.59" y1="292.30" x2="79.59" y2="294.70" stroke="#1a1a1a" stroke-width="0.9"/>
<line x1="81.74" y1="512.60" x2="81.74" y2="514.80" stroke="#1a1a1a" stroke-width="0.9"/>
<line x1="81.74" y1="292.30" x2="81.74" y2="294.70" stroke="#1a1a1a" stroke-width="0.9"/>
<line x1="83.56" y1="512.60" x2="83.56" y2="514.80" stroke="#1a1a1a" stroke-width="0.9"/>
<line x1="83.56" y1="292.30" x2="83.56" y2="294.70" stroke="#1a1a1a" stroke-width="0.9"/>
<line x1="85.13" y1="512.60" x2="85.13" y2="514.80" stroke="#1a1a1a" stroke-width="0.9"/>
<line x1="85.13" y1="292.30" x2="85.13" y2="294.70" stroke="#1a1a1a" stroke-width="0.9"/>
<line x1="86.52" y1="512.60" x2="86.52" y2="514.80" stroke="#1a1a1a" stroke-width="0.9"/>
<line x1="86.52" y1="292.30" x2="86.52" y2="294.70" stroke="#1a1a1a" stroke-width="0.9"/>
<line x1="87.76" y1="512.60" x2="87.76" y2="516.60" stroke="#1a1a1a" stroke-width="1.1"/>
<line x1="87.76" y1="292.30" x2="87.76" y2="296.60" stroke="#1a1a1a" stroke-width="1.1"/>
<line x1="95.93" y1="512.60" x2="95.93" y2="514.80" stroke="#1a1a1a" stroke-width="0.9"/>
<line x1="95.93" y1="292.30" x2="95.93" y2="294.70" stroke="#1a1a1a" stroke-width="0.9"/>
<line x1="100.70" y1="512.60" x2="100.70" y2="514.80" stroke="#1a1a1a" stroke-width="0.9"/>
<line x1="100.70" y1="292.30" x2="100.70" y2="294.70" stroke="#1a1a1a" stroke-width="0.9"/>
<line x1="104.09" y1="512.60" x2="104.09" y2="514.80" stroke="#1a1a1a" stroke-width="0.9"/>
<line x1="104.09" y1="292.30" x2="104.09" y2="294.70" stroke="#1a1a1a" stroke-width="0.9"/>
<line x1="106.72" y1="512.60" x2="106.72" y2="514.80" stroke="#1a1a1a" stroke-width="0.9"/>
<line x1="106.72" y1="292.30" x2="106.72" y2="294.70" stroke="#1a1a1a" stroke-width="0.9"/>
<line x1="108.87" y1="512.60" x2="108.87" y2="514.80" stroke="#1a1a1a" stroke-width="0.9"/>
<line x1="108.87" y1="292.30" x2="108.87" y2="294.70" stroke="#1a1a1a" stroke-width="0.9"/>
<line x1="110.69" y1="512.60" x2="110.69" y2="514.80" stroke="#1a1a1a" stroke-width="0.9"/>
<line x1="110.69" y1="292.30" x2="110.69" y2="294.70" stroke="#1a1a1a" stroke-width="0.9"/>
<line x1="112.26" y1="512.60" x2="112.26" y2="514.80" stroke="#1a1a1a" stroke-width="0.9"/>
<line x1="112.26" y1="292.30" x2="112.26" y2="294.70" stroke="#1a1a1a" stroke-width="0.9"/>
<line x1="113.65" y1="512.60" x2="113.65" y2="514.80" stroke="#1a1a1a" stroke-width="0.9"/>
<line x1="113.65" y1="292.30" x2="113.65" y2="294.70" stroke="#1a1a1a" stroke-width="0.9"/>
<line x1="114.89" y1="512.60" x2="114.89" y2="516.60" stroke="#1a1a1a" stroke-width="1.1"/>
<line x1="114.89" y1="292.30" x2="114.89" y2="296.60" stroke="#1a1a1a" stroke-width="1.1"/>
<line x1="123.06" y1="512.60" x2="123.06" y2="514.80" stroke="#1a1a1a" stroke-width="0.9"/>
<line x1="123.06" y1="292.30" x2="123.06" y2="294.70" stroke="#1a1a1a" stroke-width="0.9"/>
<line x1="127.83" y1="512.60" x2="127.83" y2="514.80" stroke="#1a1a1a" stroke-width="0.9"/>
<line x1="127.83" y1="292.30" x2="127.83" y2="294.70" stroke="#1a1a1a" stroke-width="0.9"/>
<line x1="131.22" y1="512.60" x2="131.22" y2="514.80" stroke="#1a1a1a" stroke-width="0.9"/>
<line x1="131.22" y1="292.30" x2="131.22" y2="294.70" stroke="#1a1a1a" stroke-width="0.9"/>
<line x1="133.85" y1="512.60" x2="133.85" y2="514.80" stroke="#1a1a1a" stroke-width="0.9"/>
<line x1="133.85" y1="292.30" x2="133.85" y2="294.70" stroke="#1a1a1a" stroke-width="0.9"/>
<line x1="136.00" y1="512.60" x2="136.00" y2="514.80" stroke="#1a1a1a" stroke-width="0.9"/>
<line x1="136.00" y1="292.30" x2="136.00" y2="294.70" stroke="#1a1a1a" stroke-width="0.9"/>
<line x1="137.82" y1="512.60" x2="137.82" y2="514.80" stroke="#1a1a1a" stroke-width="0.9"/>
<line x1="137.82" y1="292.30" x2="137.82" y2="294.70" stroke="#1a1a1a" stroke-width="0.9"/>
<line x1="139.39" y1="512.60" x2="139.39" y2="514.80" stroke="#1a1a1a" stroke-width="0.9"/>
<line x1="139.39" y1="292.30" x2="139.39" y2="294.70" stroke="#1a1a1a" stroke-width="0.9"/>
<line x1="140.78" y1="512.60" x2="140.78" y2="514.80" stroke="#1a1a1a" stroke-width="0.9"/>
<line x1="140.78" y1="292.30" x2="140.78" y2="294.70" stroke="#1a1a1a" stroke-width="0.9"/>
<line x1="142.02" y1="512.60" x2="142.02" y2="516.60" stroke="#1a1a1a" stroke-width="1.1"/>
<line x1="142.02" y1="292.30" x2="142.02" y2="296.60" stroke="#1a1a1a" stroke-width="1.1"/>
<line x1="150.19" y1="512.60" x2="150.19" y2="514.80" stroke="#1a1a1a" stroke-width="0.9"/>
<line x1="150.19" y1="292.30" x2="150.19" y2="294.70" stroke="#1a1a1a" stroke-width="0.9"/>
<line x1="154.96" y1="512.60" x2="154.96" y2="514.80" stroke="#1a1a1a" stroke-width="0.9"/>
<line x1="154.96" y1="292.30" x2="154.96" y2="294.70" stroke="#1a1a1a" stroke-width="0.9"/>
<line x1="158.35" y1="512.60" x2="158.35" y2="514.80" stroke="#1a1a1a" stroke-width="0.9"/>
<line x1="158.35" y1="292.30" x2="158.35" y2="294.70" stroke="#1a1a1a" stroke-width="0.9"/>
<line x1="160.98" y1="512.60" x2="160.98" y2="514.80" stroke="#1a1a1a" stroke-width="0.9"/>
<line x1="160.98" y1="292.30" x2="160.98" y2="294.70" stroke="#1a1a1a" stroke-width="0.9"/>
<line x1="163.13" y1="512.60" x2="163.13" y2="514.80" stroke="#1a1a1a" stroke-width="0.9"/>
<line x1="163.13" y1="292.30" x2="163.13" y2="294.70" stroke="#1a1a1a" stroke-width="0.9"/>
<line x1="164.95" y1="512.60" x2="164.95" y2="514.80" stroke="#1a1a1a" stroke-width="0.9"/>
<line x1="164.95" y1="292.30" x2="164.95" y2="294.70" stroke="#1a1a1a" stroke-width="0.9"/>
<line x1="166.52" y1="512.60" x2="166.52" y2="514.80" stroke="#1a1a1a" stroke-width="0.9"/>
<line x1="166.52" y1="292.30" x2="166.52" y2="294.70" stroke="#1a1a1a" stroke-width="0.9"/>
<line x1="167.91" y1="512.60" x2="167.91" y2="514.80" stroke="#1a1a1a" stroke-width="0.9"/>
<line x1="167.91" y1="292.30" x2="167.91" y2="294.70" stroke="#1a1a1a" stroke-width="0.9"/>
<line x1="169.15" y1="512.60" x2="169.15" y2="516.60" stroke="#1a1a1a" stroke-width="1.1"/>
<line x1="169.15" y1="292.30" x2="169.15" y2="296.60" stroke="#1a1a1a" stroke-width="1.1"/>
<line x1="177.32" y1="512.60" x2="177.32" y2="514.80" stroke="#1a1a1a" stroke-width="0.9"/>
<line x1="177.32" y1="292.30" x2="177.32" y2="294.70" stroke="#1a1a1a" stroke-width="0.9"/>
<line x1="182.09" y1="512.60" x2="182.09" y2="514.80" stroke="#1a1a1a" stroke-width="0.9"/>
<line x1="182.09" y1="292.30" x2="182.09" y2="294.70" stroke="#1a1a1a" stroke-width="0.9"/>
<line x1="185.48" y1="512.60" x2="185.48" y2="514.80" stroke="#1a1a1a" stroke-width="0.9"/>
<line x1="185.48" y1="292.30" x2="185.48" y2="294.70" stroke="#1a1a1a" stroke-width="0.9"/>
<line x1="188.11" y1="512.60" x2="188.11" y2="514.80" stroke="#1a1a1a" stroke-width="0.9"/>
<line x1="188.11" y1="292.30" x2="188.11" y2="294.70" stroke="#1a1a1a" stroke-width="0.9"/>
<line x1="190.26" y1="512.60" x2="190.26" y2="514.80" stroke="#1a1a1a" stroke-width="0.9"/>
<line x1="190.26" y1="292.30" x2="190.26" y2="294.70" stroke="#1a1a1a" stroke-width="0.9"/>
<line x1="192.08" y1="512.60" x2="192.08" y2="514.80" stroke="#1a1a1a" stroke-width="0.9"/>
<line x1="192.08" y1="292.30" x2="192.08" y2="294.70" stroke="#1a1a1a" stroke-width="0.9"/>
<line x1="193.65" y1="512.60" x2="193.65" y2="514.80" stroke="#1a1a1a" stroke-width="0.9"/>
<line x1="193.65" y1="292.30" x2="193.65" y2="294.70" stroke="#1a1a1a" stroke-width="0.9"/>
<line x1="195.04" y1="512.60" x2="195.04" y2="514.80" stroke="#1a1a1a" stroke-width="0.9"/>
<line x1="195.04" y1="292.30" x2="195.04" y2="294.70" stroke="#1a1a1a" stroke-width="0.9"/>
<line x1="196.28" y1="512.60" x2="196.28" y2="516.60" stroke="#1a1a1a" stroke-width="1.1"/>
<line x1="196.28" y1="292.30" x2="196.28" y2="296.60" stroke="#1a1a1a" stroke-width="1.1"/>
<line x1="204.45" y1="512.60" x2="204.45" y2="514.80" stroke="#1a1a1a" stroke-width="0.9"/>
<line x1="204.45" y1="292.30" x2="204.45" y2="294.70" stroke="#1a1a1a" stroke-width="0.9"/>
<line x1="209.22" y1="512.60" x2="209.22" y2="514.80" stroke="#1a1a1a" stroke-width="0.9"/>
<line x1="209.22" y1="292.30" x2="209.22" y2="294.70" stroke="#1a1a1a" stroke-width="0.9"/>
<line x1="212.61" y1="512.60" x2="212.61" y2="514.80" stroke="#1a1a1a" stroke-width="0.9"/>
<line x1="212.61" y1="292.30" x2="212.61" y2="294.70" stroke="#1a1a1a" stroke-width="0.9"/>
<line x1="215.24" y1="512.60" x2="215.24" y2="514.80" stroke="#1a1a1a" stroke-width="0.9"/>
<line x1="215.24" y1="292.30" x2="215.24" y2="294.70" stroke="#1a1a1a" stroke-width="0.9"/>
<line x1="217.39" y1="512.60" x2="217.39" y2="514.80" stroke="#1a1a1a" stroke-width="0.9"/>
<line x1="217.39" y1="292.30" x2="217.39" y2="294.70" stroke="#1a1a1a" stroke-width="0.9"/>
<line x1="219.21" y1="512.60" x2="219.21" y2="514.80" stroke="#1a1a1a" stroke-width="0.9"/>
<line x1="219.21" y1="292.30" x2="219.21" y2="294.70" stroke="#1a1a1a" stroke-width="0.9"/>
<line x1="220.78" y1="512.60" x2="220.78" y2="514.80" stroke="#1a1a1a" stroke-width="0.9"/>
<line x1="220.78" y1="292.30" x2="220.78" y2="294.70" stroke="#1a1a1a" stroke-width="0.9"/>
<line x1="222.17" y1="512.60" x2="222.17" y2="514.80" stroke="#1a1a1a" stroke-width="0.9"/>
<line x1="222.17" y1="292.30" x2="222.17" y2="294.70" stroke="#1a1a1a" stroke-width="0.9"/>
<line x1="223.41" y1="512.60" x2="223.41" y2="516.60" stroke="#1a1a1a" stroke-width="1.1"/>
<line x1="223.41" y1="292.30" x2="223.41" y2="296.60" stroke="#1a1a1a" stroke-width="1.1"/>
<line x1="231.58" y1="512.60" x2="231.58" y2="514.80" stroke="#1a1a1a" stroke-width="0.9"/>
<line x1="231.58" y1="292.30" x2="231.58" y2="294.70" stroke="#1a1a1a" stroke-width="0.9"/>
<line x1="236.35" y1="512.60" x2="236.35" y2="514.80" stroke="#1a1a1a" stroke-width="0.9"/>
<line x1="236.35" y1="292.30" x2="236.35" y2="294.70" stroke="#1a1a1a" stroke-width="0.9"/>
<line x1="239.74" y1="512.60" x2="239.74" y2="514.80" stroke="#1a1a1a" stroke-width="0.9"/>
<line x1="239.74" y1="292.30" x2="239.74" y2="294.70" stroke="#1a1a1a" stroke-width="0.9"/>
<line x1="242.37" y1="512.60" x2="242.37" y2="514.80" stroke="#1a1a1a" stroke-width="0.9"/>
<line x1="242.37" y1="292.30" x2="242.37" y2="294.70" stroke="#1a1a1a" stroke-width="0.9"/>
<line x1="244.52" y1="512.60" x2="244.52" y2="514.80" stroke="#1a1a1a" stroke-width="0.9"/>
<line x1="244.52" y1="292.30" x2="244.52" y2="294.70" stroke="#1a1a1a" stroke-width="0.9"/>
<line x1="246.34" y1="512.60" x2="246.34" y2="514.80" stroke="#1a1a1a" stroke-width="0.9"/>
<line x1="246.34" y1="292.30" x2="246.34" y2="294.70" stroke="#1a1a1a" stroke-width="0.9"/>
<line x1="247.91" y1="512.60" x2="247.91" y2="514.80" stroke="#1a1a1a" stroke-width="0.9"/>
<line x1="247.91" y1="292.30" x2="247.91" y2="294.70" stroke="#1a1a1a" stroke-width="0.9"/>
<line x1="249.30" y1="512.60" x2="249.30" y2="514.80" stroke="#1a1a1a" stroke-width="0.9"/>
<line x1="249.30" y1="292.30" x2="249.30" y2="294.70" stroke="#1a1a1a" stroke-width="0.9"/>
<line x1="250.54" y1="512.60" x2="250.54" y2="516.60" stroke="#1a1a1a" stroke-width="1.1"/>
<line x1="250.54" y1="292.30" x2="250.54" y2="296.60" stroke="#1a1a1a" stroke-width="1.1"/>
<line x1="258.71" y1="512.60" x2="258.71" y2="514.80" stroke="#1a1a1a" stroke-width="0.9"/>
<line x1="258.71" y1="292.30" x2="258.71" y2="294.70" stroke="#1a1a1a" stroke-width="0.9"/>
<line x1="263.48" y1="512.60" x2="263.48" y2="514.80" stroke="#1a1a1a" stroke-width="0.9"/>
<line x1="263.48" y1="292.30" x2="263.48" y2="294.70" stroke="#1a1a1a" stroke-width="0.9"/>
<line x1="266.87" y1="512.60" x2="266.87" y2="514.80" stroke="#1a1a1a" stroke-width="0.9"/>
<line x1="266.87" y1="292.30" x2="266.87" y2="294.70" stroke="#1a1a1a" stroke-width="0.9"/>
<line x1="269.50" y1="512.60" x2="269.50" y2="514.80" stroke="#1a1a1a" stroke-width="0.9"/>
<line x1="269.50" y1="292.30" x2="269.50" y2="294.70" stroke="#1a1a1a" stroke-width="0.9"/>
<line x1="271.65" y1="512.60" x2="271.65" y2="514.80" stroke="#1a1a1a" stroke-width="0.9"/>
<line x1="271.65" y1="292.30" x2="271.65" y2="294.70" stroke="#1a1a1a" stroke-width="0.9"/>
<line x1="273.47" y1="512.60" x2="273.47" y2="514.80" stroke="#1a1a1a" stroke-width="0.9"/>
<line x1="273.47" y1="292.30" x2="273.47" y2="294.70" stroke="#1a1a1a" stroke-width="0.9"/>
<line x1="275.04" y1="512.60" x2="275.04" y2="514.80" stroke="#1a1a1a" stroke-width="0.9"/>
<line x1="275.04" y1="292.30" x2="275.04" y2="294.70" stroke="#1a1a1a" stroke-width="0.9"/>
<line x1="276.43" y1="512.60" x2="276.43" y2="514.80" stroke="#1a1a1a" stroke-width="0.9"/>
<line x1="276.43" y1="292.30" x2="276.43" y2="294.70" stroke="#1a1a1a" stroke-width="0.9"/>
<line x1="277.67" y1="512.60" x2="277.67" y2="516.60" stroke="#1a1a1a" stroke-width="1.1"/>
<line x1="277.67" y1="292.30" x2="277.67" y2="296.60" stroke="#1a1a1a" stroke-width="1.1"/>
<line x1="285.84" y1="512.60" x2="285.84" y2="514.80" stroke="#1a1a1a" stroke-width="0.9"/>
<line x1="285.84" y1="292.30" x2="285.84" y2="294.70" stroke="#1a1a1a" stroke-width="0.9"/>
<line x1="290.61" y1="512.60" x2="290.61" y2="514.80" stroke="#1a1a1a" stroke-width="0.9"/>
<line x1="290.61" y1="292.30" x2="290.61" y2="294.70" stroke="#1a1a1a" stroke-width="0.9"/>
<line x1="294.00" y1="512.60" x2="294.00" y2="514.80" stroke="#1a1a1a" stroke-width="0.9"/>
<line x1="294.00" y1="292.30" x2="294.00" y2="294.70" stroke="#1a1a1a" stroke-width="0.9"/>
<line x1="296.63" y1="512.60" x2="296.63" y2="514.80" stroke="#1a1a1a" stroke-width="0.9"/>
<line x1="296.63" y1="292.30" x2="296.63" y2="294.70" stroke="#1a1a1a" stroke-width="0.9"/>
<text transform="translate(33.90,529.20) scale(0.760,1)" font-size="9.6" fill="#1a1a1a" stroke="#1a1a1a" stroke-width="0.4" text-anchor="middle">10<tspan font-size="6.8" dx="0.7" dy="-3.9">9</tspan></text>
<text transform="translate(61.03,529.20) scale(0.760,1)" font-size="9.6" fill="#1a1a1a" stroke="#1a1a1a" stroke-width="0.4" text-anchor="middle">10<tspan font-size="6.8" dx="0.7" dy="-3.9">10</tspan></text>
<text transform="translate(88.16,529.20) scale(0.760,1)" font-size="9.6" fill="#1a1a1a" stroke="#1a1a1a" stroke-width="0.4" text-anchor="middle">10<tspan font-size="6.8" dx="0.7" dy="-3.9">11</tspan></text>
<text transform="translate(115.29,529.20) scale(0.760,1)" font-size="9.6" fill="#1a1a1a" stroke="#1a1a1a" stroke-width="0.4" text-anchor="middle">10<tspan font-size="6.8" dx="0.7" dy="-3.9">12</tspan></text>
<text transform="translate(142.42,529.20) scale(0.760,1)" font-size="9.6" fill="#1a1a1a" stroke="#1a1a1a" stroke-width="0.4" text-anchor="middle">10<tspan font-size="6.8" dx="0.7" dy="-3.9">13</tspan></text>
<text transform="translate(169.55,529.20) scale(0.760,1)" font-size="9.6" fill="#1a1a1a" stroke="#1a1a1a" stroke-width="0.4" text-anchor="middle">10<tspan font-size="6.8" dx="0.7" dy="-3.9">14</tspan></text>
<text transform="translate(196.68,529.20) scale(0.760,1)" font-size="9.6" fill="#1a1a1a" stroke="#1a1a1a" stroke-width="0.4" text-anchor="middle">10<tspan font-size="6.8" dx="0.7" dy="-3.9">15</tspan></text>
<text transform="translate(223.81,529.20) scale(0.760,1)" font-size="9.6" fill="#1a1a1a" stroke="#1a1a1a" stroke-width="0.4" text-anchor="middle">10<tspan font-size="6.8" dx="0.7" dy="-3.9">16</tspan></text>
<text transform="translate(250.94,529.20) scale(0.760,1)" font-size="9.6" fill="#1a1a1a" stroke="#1a1a1a" stroke-width="0.4" text-anchor="middle">10<tspan font-size="6.8" dx="0.7" dy="-3.9">17</tspan></text>
<text transform="translate(278.07,529.20) scale(0.760,1)" font-size="9.6" fill="#1a1a1a" stroke="#1a1a1a" stroke-width="0.4" text-anchor="middle">10<tspan font-size="6.8" dx="0.7" dy="-3.9">18</tspan></text>
<text transform="translate(113.50,549.30) scale(0.853,1)" font-size="11.6" fill="#1a1a1a" stroke="#1a1a1a" stroke-width="0.4" text-anchor="start">Defect density N<tspan font-size="7.5" dy="2.5">t</tspan><tspan dy="-2.5"> (cm</tspan><tspan font-size="7.8" dy="-4.2">-3</tspan><tspan dy="4.2">)</tspan></text>
<line x1="29.90" y1="329.40" x2="33.50" y2="329.40" stroke="#1a1a1a" stroke-width="1.2"/>
<text transform="translate(29.30,333.00) scale(0.770,1)" font-size="10" fill="#1a1a1a" stroke="#1a1a1a" stroke-width="0.4" text-anchor="end">1,2463</text>
<line x1="29.90" y1="390.47" x2="33.50" y2="390.47" stroke="#1a1a1a" stroke-width="1.2"/>
<text transform="translate(29.30,394.07) scale(0.770,1)" font-size="10" fill="#1a1a1a" stroke="#1a1a1a" stroke-width="0.4" text-anchor="end">1,2462</text>
<line x1="29.90" y1="451.53" x2="33.50" y2="451.53" stroke="#1a1a1a" stroke-width="1.2"/>
<text transform="translate(29.30,455.13) scale(0.770,1)" font-size="10" fill="#1a1a1a" stroke="#1a1a1a" stroke-width="0.4" text-anchor="end">1,2461</text>
<line x1="29.90" y1="512.60" x2="33.50" y2="512.60" stroke="#1a1a1a" stroke-width="1.2"/>
<text transform="translate(29.30,516.20) scale(0.770,1)" font-size="10" fill="#1a1a1a" stroke="#1a1a1a" stroke-width="0.4" text-anchor="end">1,2460</text>
<line x1="31.50" y1="298.87" x2="33.50" y2="298.87" stroke="#1a1a1a" stroke-width="1.0"/>
<line x1="31.50" y1="359.93" x2="33.50" y2="359.93" stroke="#1a1a1a" stroke-width="1.0"/>
<line x1="31.50" y1="421.00" x2="33.50" y2="421.00" stroke="#1a1a1a" stroke-width="1.0"/>
<line x1="31.50" y1="482.07" x2="33.50" y2="482.07" stroke="#1a1a1a" stroke-width="1.0"/>
<text transform="translate(13.30,419.90) rotate(-90) scale(1.140,1)" font-size="10.5" fill="#1a1a1a" stroke="#1a1a1a" stroke-width="0.4" text-anchor="middle">Voc (V)</text>
<line x1="297.30" y1="292.30" x2="297.30" y2="512.60" stroke="#dc4646" stroke-width="1.3"/>
<line x1="297.30" y1="488.90" x2="300.90" y2="488.90" stroke="#dc4646" stroke-width="1.2"/>
<text transform="translate(303.30,492.50) scale(0.820,1)" font-size="10" fill="#d43535" stroke="#d43535" stroke-width="0.4" text-anchor="start">0,9</text>
<line x1="297.30" y1="443.08" x2="300.90" y2="443.08" stroke="#dc4646" stroke-width="1.2"/>
<text transform="translate(303.30,446.68) scale(0.820,1)" font-size="10" fill="#d43535" stroke="#d43535" stroke-width="0.4" text-anchor="start">1,0</text>
<line x1="297.30" y1="397.25" x2="300.90" y2="397.25" stroke="#dc4646" stroke-width="1.2"/>
<text transform="translate(303.30,400.85) scale(0.820,1)" font-size="10" fill="#d43535" stroke="#d43535" stroke-width="0.4" text-anchor="start">1,1</text>
<line x1="297.30" y1="351.43" x2="300.90" y2="351.43" stroke="#dc4646" stroke-width="1.2"/>
<text transform="translate(303.30,355.03) scale(0.820,1)" font-size="10" fill="#d43535" stroke="#d43535" stroke-width="0.4" text-anchor="start">1,2</text>
<line x1="297.30" y1="305.60" x2="300.90" y2="305.60" stroke="#dc4646" stroke-width="1.2"/>
<text transform="translate(303.30,309.20) scale(0.820,1)" font-size="10" fill="#d43535" stroke="#d43535" stroke-width="0.4" text-anchor="start">1,3</text>
<line x1="297.30" y1="465.99" x2="299.30" y2="465.99" stroke="#dc4646" stroke-width="1.0"/>
<line x1="297.30" y1="420.16" x2="299.30" y2="420.16" stroke="#dc4646" stroke-width="1.0"/>
<line x1="297.30" y1="374.34" x2="299.30" y2="374.34" stroke="#dc4646" stroke-width="1.0"/>
<line x1="297.30" y1="328.51" x2="299.30" y2="328.51" stroke="#dc4646" stroke-width="1.0"/>
<line x1="318.20" y1="291.20" x2="318.20" y2="512.60" stroke="#5050d2" stroke-width="1.3"/>
<line x1="318.20" y1="511.80" x2="321.80" y2="511.80" stroke="#5050d2" stroke-width="1.2"/>
<text transform="translate(324.20,515.40) scale(0.800,1)" font-size="10" fill="#3636cc" stroke="#3636cc" stroke-width="0.4" text-anchor="start">1,238</text>
<line x1="318.20" y1="467.74" x2="321.80" y2="467.74" stroke="#5050d2" stroke-width="1.2"/>
<text transform="translate(324.20,471.34) scale(0.800,1)" font-size="10" fill="#3636cc" stroke="#3636cc" stroke-width="0.4" text-anchor="start">1,240</text>
<line x1="318.20" y1="423.68" x2="321.80" y2="423.68" stroke="#5050d2" stroke-width="1.2"/>
<text transform="translate(324.20,427.28) scale(0.800,1)" font-size="10" fill="#3636cc" stroke="#3636cc" stroke-width="0.4" text-anchor="start">1,242</text>
<line x1="318.20" y1="379.62" x2="321.80" y2="379.62" stroke="#5050d2" stroke-width="1.2"/>
<text transform="translate(324.20,383.22) scale(0.800,1)" font-size="10" fill="#3636cc" stroke="#3636cc" stroke-width="0.4" text-anchor="start">1,244</text>
<line x1="318.20" y1="335.56" x2="321.80" y2="335.56" stroke="#5050d2" stroke-width="1.2"/>
<text transform="translate(324.20,339.16) scale(0.800,1)" font-size="10" fill="#3636cc" stroke="#3636cc" stroke-width="0.4" text-anchor="start">1,246</text>
<line x1="318.20" y1="291.50" x2="321.80" y2="291.50" stroke="#5050d2" stroke-width="1.2"/>
<text transform="translate(324.20,295.10) scale(0.800,1)" font-size="10" fill="#3636cc" stroke="#3636cc" stroke-width="0.4" text-anchor="start">1,248</text>
<line x1="318.20" y1="489.77" x2="320.20" y2="489.77" stroke="#5050d2" stroke-width="1.0"/>
<line x1="318.20" y1="445.71" x2="320.20" y2="445.71" stroke="#5050d2" stroke-width="1.0"/>
<line x1="318.20" y1="401.65" x2="320.20" y2="401.65" stroke="#5050d2" stroke-width="1.0"/>
<line x1="318.20" y1="357.59" x2="320.20" y2="357.59" stroke="#5050d2" stroke-width="1.0"/>
<line x1="318.20" y1="313.53" x2="320.20" y2="313.53" stroke="#5050d2" stroke-width="1.0"/>
<polyline points="60.63,330.00 87.76,330.00 114.89,330.00 142.02,331.50 169.15,340.80 196.28,362.20 223.41,398.00 250.54,446.60 277.67,495.30" fill="none" stroke="#e22a2a" stroke-width="1.5" stroke-linejoin="round"/>
<polyline points="60.63,328.40 87.76,328.40 114.89,328.40 142.02,328.40 169.15,328.40 196.28,328.40 223.41,328.40 250.54,328.40 277.67,327.20" fill="none" stroke="#1414e6" stroke-width="1.5" stroke-linejoin="round"/>
<polyline points="60.63,329.20 87.76,329.20 114.89,329.20 142.02,329.20 169.15,329.20 196.28,329.20 223.41,329.20 250.54,329.20 277.67,389.70" fill="none" stroke="#1c1c1c" stroke-width="1.5" stroke-linejoin="round"/>
<ellipse cx="60.63" cy="329.20" rx="2.45" ry="3.05" fill="url(#blk)"/>
<ellipse cx="87.76" cy="329.20" rx="2.45" ry="3.05" fill="url(#blk)"/>
<ellipse cx="114.89" cy="329.20" rx="2.45" ry="3.05" fill="url(#blk)"/>
<ellipse cx="142.02" cy="329.20" rx="2.45" ry="3.05" fill="url(#blk)"/>
<ellipse cx="169.15" cy="329.20" rx="2.45" ry="3.05" fill="url(#blk)"/>
<ellipse cx="196.28" cy="329.20" rx="2.45" ry="3.05" fill="url(#blk)"/>
<ellipse cx="223.41" cy="329.20" rx="2.45" ry="3.05" fill="url(#blk)"/>
<ellipse cx="250.54" cy="329.20" rx="2.45" ry="3.05" fill="url(#blk)"/>
<ellipse cx="277.67" cy="389.70" rx="2.45" ry="3.05" fill="url(#blk)"/>
<ellipse cx="60.63" cy="330.00" rx="2.45" ry="3.05" fill="url(#red)"/>
<ellipse cx="87.76" cy="330.00" rx="2.45" ry="3.05" fill="url(#red)"/>
<ellipse cx="114.89" cy="330.00" rx="2.45" ry="3.05" fill="url(#red)"/>
<ellipse cx="142.02" cy="331.50" rx="2.45" ry="3.05" fill="url(#red)"/>
<ellipse cx="169.15" cy="340.80" rx="2.45" ry="3.05" fill="url(#red)"/>
<ellipse cx="196.28" cy="362.20" rx="2.45" ry="3.05" fill="url(#red)"/>
<ellipse cx="223.41" cy="398.00" rx="2.45" ry="3.05" fill="url(#red)"/>
<ellipse cx="250.54" cy="446.60" rx="2.45" ry="3.05" fill="url(#red)"/>
<ellipse cx="277.67" cy="495.30" rx="2.45" ry="3.05" fill="url(#red)"/>
<ellipse cx="60.63" cy="328.40" rx="2.45" ry="3.05" fill="url(#blu)"/>
<ellipse cx="87.76" cy="328.40" rx="2.45" ry="3.05" fill="url(#blu)"/>
<ellipse cx="114.89" cy="328.40" rx="2.45" ry="3.05" fill="url(#blu)"/>
<ellipse cx="142.02" cy="328.40" rx="2.45" ry="3.05" fill="url(#blu)"/>
<ellipse cx="169.15" cy="328.40" rx="2.45" ry="3.05" fill="url(#blu)"/>
<ellipse cx="196.28" cy="328.40" rx="2.45" ry="3.05" fill="url(#blu)"/>
<ellipse cx="223.41" cy="328.40" rx="2.45" ry="3.05" fill="url(#blu)"/>
<ellipse cx="250.54" cy="328.40" rx="2.45" ry="3.05" fill="url(#blu)"/>
<ellipse cx="277.67" cy="327.20" rx="2.45" ry="3.05" fill="url(#blu)"/>
<line x1="36.40" y1="473.30" x2="55.40" y2="473.30" stroke="#1c1c1c" stroke-width="1.3"/>
<ellipse cx="45.90" cy="473.30" rx="2.3" ry="2.8" fill="url(#blk)"/>
<text transform="translate(57.70,476.60) scale(0.915,1)" font-size="9.2" fill="#1a1a1a" stroke="#1a1a1a" stroke-width="0.4" text-anchor="start">Nt ETL(SnS<tspan font-size="5.8" dy="2.2">2</tspan><tspan dy="-2.2">)</tspan></text>
<line x1="36.40" y1="488.20" x2="55.40" y2="488.20" stroke="#e02424" stroke-width="1.3"/>
<ellipse cx="45.90" cy="488.20" rx="2.3" ry="2.8" fill="url(#red)"/>
<text transform="translate(57.70,491.50) scale(0.915,1)" font-size="9.2" fill="#1a1a1a" stroke="#1a1a1a" stroke-width="0.4" text-anchor="start">Nt Absorber layer (CMTS)</text>
<line x1="36.40" y1="501.40" x2="55.40" y2="501.40" stroke="#1414e6" stroke-width="1.3"/>
<ellipse cx="45.90" cy="501.40" rx="2.3" ry="2.8" fill="url(#blu)"/>
<text transform="translate(57.70,504.70) scale(0.915,1)" font-size="9.2" fill="#1a1a1a" stroke="#1a1a1a" stroke-width="0.4" text-anchor="start">Nt HTL(CZTS)</text>
<line x1="381.60" y1="293.30" x2="381.60" y2="513.30" stroke="#1a1a1a" stroke-width="1.2"/>
<line x1="381.00" y1="513.30" x2="637.60" y2="513.30" stroke="#1a1a1a" stroke-width="1.2"/>
<line x1="381.00" y1="293.30" x2="637.60" y2="293.30" stroke="#1a1a1a" stroke-width="1.2"/>
<line x1="381.10" y1="513.30" x2="381.10" y2="517.30" stroke="#1a1a1a" stroke-width="1.1"/>
<line x1="381.10" y1="293.30" x2="381.10" y2="297.60" stroke="#1a1a1a" stroke-width="1.1"/>
<line x1="389.04" y1="513.30" x2="389.04" y2="515.50" stroke="#1a1a1a" stroke-width="0.9"/>
<line x1="389.04" y1="293.30" x2="389.04" y2="295.70" stroke="#1a1a1a" stroke-width="0.9"/>
<line x1="393.68" y1="513.30" x2="393.68" y2="515.50" stroke="#1a1a1a" stroke-width="0.9"/>
<line x1="393.68" y1="293.30" x2="393.68" y2="295.70" stroke="#1a1a1a" stroke-width="0.9"/>
<line x1="396.98" y1="513.30" x2="396.98" y2="515.50" stroke="#1a1a1a" stroke-width="0.9"/>
<line x1="396.98" y1="293.30" x2="396.98" y2="295.70" stroke="#1a1a1a" stroke-width="0.9"/>
<line x1="399.54" y1="513.30" x2="399.54" y2="515.50" stroke="#1a1a1a" stroke-width="0.9"/>
<line x1="399.54" y1="293.30" x2="399.54" y2="295.70" stroke="#1a1a1a" stroke-width="0.9"/>
<line x1="401.62" y1="513.30" x2="401.62" y2="515.50" stroke="#1a1a1a" stroke-width="0.9"/>
<line x1="401.62" y1="293.30" x2="401.62" y2="295.70" stroke="#1a1a1a" stroke-width="0.9"/>
<line x1="403.39" y1="513.30" x2="403.39" y2="515.50" stroke="#1a1a1a" stroke-width="0.9"/>
<line x1="403.39" y1="293.30" x2="403.39" y2="295.70" stroke="#1a1a1a" stroke-width="0.9"/>
<line x1="404.92" y1="513.30" x2="404.92" y2="515.50" stroke="#1a1a1a" stroke-width="0.9"/>
<line x1="404.92" y1="293.30" x2="404.92" y2="295.70" stroke="#1a1a1a" stroke-width="0.9"/>
<line x1="406.27" y1="513.30" x2="406.27" y2="515.50" stroke="#1a1a1a" stroke-width="0.9"/>
<line x1="406.27" y1="293.30" x2="406.27" y2="295.70" stroke="#1a1a1a" stroke-width="0.9"/>
<line x1="407.48" y1="513.30" x2="407.48" y2="517.30" stroke="#1a1a1a" stroke-width="1.1"/>
<line x1="407.48" y1="293.30" x2="407.48" y2="297.60" stroke="#1a1a1a" stroke-width="1.1"/>
<line x1="415.41" y1="513.30" x2="415.41" y2="515.50" stroke="#1a1a1a" stroke-width="0.9"/>
<line x1="415.41" y1="293.30" x2="415.41" y2="295.70" stroke="#1a1a1a" stroke-width="0.9"/>
<line x1="420.06" y1="513.30" x2="420.06" y2="515.50" stroke="#1a1a1a" stroke-width="0.9"/>
<line x1="420.06" y1="293.30" x2="420.06" y2="295.70" stroke="#1a1a1a" stroke-width="0.9"/>
<line x1="423.35" y1="513.30" x2="423.35" y2="515.50" stroke="#1a1a1a" stroke-width="0.9"/>
<line x1="423.35" y1="293.30" x2="423.35" y2="295.70" stroke="#1a1a1a" stroke-width="0.9"/>
<line x1="425.91" y1="513.30" x2="425.91" y2="515.50" stroke="#1a1a1a" stroke-width="0.9"/>
<line x1="425.91" y1="293.30" x2="425.91" y2="295.70" stroke="#1a1a1a" stroke-width="0.9"/>
<line x1="428.00" y1="513.30" x2="428.00" y2="515.50" stroke="#1a1a1a" stroke-width="0.9"/>
<line x1="428.00" y1="293.30" x2="428.00" y2="295.70" stroke="#1a1a1a" stroke-width="0.9"/>
<line x1="429.76" y1="513.30" x2="429.76" y2="515.50" stroke="#1a1a1a" stroke-width="0.9"/>
<line x1="429.76" y1="293.30" x2="429.76" y2="295.70" stroke="#1a1a1a" stroke-width="0.9"/>
<line x1="431.29" y1="513.30" x2="431.29" y2="515.50" stroke="#1a1a1a" stroke-width="0.9"/>
<line x1="431.29" y1="293.30" x2="431.29" y2="295.70" stroke="#1a1a1a" stroke-width="0.9"/>
<line x1="432.64" y1="513.30" x2="432.64" y2="515.50" stroke="#1a1a1a" stroke-width="0.9"/>
<line x1="432.64" y1="293.30" x2="432.64" y2="295.70" stroke="#1a1a1a" stroke-width="0.9"/>
<line x1="433.85" y1="513.30" x2="433.85" y2="517.30" stroke="#1a1a1a" stroke-width="1.1"/>
<line x1="433.85" y1="293.30" x2="433.85" y2="297.60" stroke="#1a1a1a" stroke-width="1.1"/>
<line x1="441.79" y1="513.30" x2="441.79" y2="515.50" stroke="#1a1a1a" stroke-width="0.9"/>
<line x1="441.79" y1="293.30" x2="441.79" y2="295.70" stroke="#1a1a1a" stroke-width="0.9"/>
<line x1="446.43" y1="513.30" x2="446.43" y2="515.50" stroke="#1a1a1a" stroke-width="0.9"/>
<line x1="446.43" y1="293.30" x2="446.43" y2="295.70" stroke="#1a1a1a" stroke-width="0.9"/>
<line x1="449.73" y1="513.30" x2="449.73" y2="515.50" stroke="#1a1a1a" stroke-width="0.9"/>
<line x1="449.73" y1="293.30" x2="449.73" y2="295.70" stroke="#1a1a1a" stroke-width="0.9"/>
<line x1="452.29" y1="513.30" x2="452.29" y2="515.50" stroke="#1a1a1a" stroke-width="0.9"/>
<line x1="452.29" y1="293.30" x2="452.29" y2="295.70" stroke="#1a1a1a" stroke-width="0.9"/>
<line x1="454.37" y1="513.30" x2="454.37" y2="515.50" stroke="#1a1a1a" stroke-width="0.9"/>
<line x1="454.37" y1="293.30" x2="454.37" y2="295.70" stroke="#1a1a1a" stroke-width="0.9"/>
<line x1="456.14" y1="513.30" x2="456.14" y2="515.50" stroke="#1a1a1a" stroke-width="0.9"/>
<line x1="456.14" y1="293.30" x2="456.14" y2="295.70" stroke="#1a1a1a" stroke-width="0.9"/>
<line x1="457.67" y1="513.30" x2="457.67" y2="515.50" stroke="#1a1a1a" stroke-width="0.9"/>
<line x1="457.67" y1="293.30" x2="457.67" y2="295.70" stroke="#1a1a1a" stroke-width="0.9"/>
<line x1="459.02" y1="513.30" x2="459.02" y2="515.50" stroke="#1a1a1a" stroke-width="0.9"/>
<line x1="459.02" y1="293.30" x2="459.02" y2="295.70" stroke="#1a1a1a" stroke-width="0.9"/>
<line x1="460.23" y1="513.30" x2="460.23" y2="517.30" stroke="#1a1a1a" stroke-width="1.1"/>
<line x1="460.23" y1="293.30" x2="460.23" y2="297.60" stroke="#1a1a1a" stroke-width="1.1"/>
<line x1="468.16" y1="513.30" x2="468.16" y2="515.50" stroke="#1a1a1a" stroke-width="0.9"/>
<line x1="468.16" y1="293.30" x2="468.16" y2="295.70" stroke="#1a1a1a" stroke-width="0.9"/>
<line x1="472.81" y1="513.30" x2="472.81" y2="515.50" stroke="#1a1a1a" stroke-width="0.9"/>
<line x1="472.81" y1="293.30" x2="472.81" y2="295.70" stroke="#1a1a1a" stroke-width="0.9"/>
<line x1="476.10" y1="513.30" x2="476.10" y2="515.50" stroke="#1a1a1a" stroke-width="0.9"/>
<line x1="476.10" y1="293.30" x2="476.10" y2="295.70" stroke="#1a1a1a" stroke-width="0.9"/>
<line x1="478.66" y1="513.30" x2="478.66" y2="515.50" stroke="#1a1a1a" stroke-width="0.9"/>
<line x1="478.66" y1="293.30" x2="478.66" y2="295.70" stroke="#1a1a1a" stroke-width="0.9"/>
<line x1="480.75" y1="513.30" x2="480.75" y2="515.50" stroke="#1a1a1a" stroke-width="0.9"/>
<line x1="480.75" y1="293.30" x2="480.75" y2="295.70" stroke="#1a1a1a" stroke-width="0.9"/>
<line x1="482.51" y1="513.30" x2="482.51" y2="515.50" stroke="#1a1a1a" stroke-width="0.9"/>
<line x1="482.51" y1="293.30" x2="482.51" y2="295.70" stroke="#1a1a1a" stroke-width="0.9"/>
<line x1="484.04" y1="513.30" x2="484.04" y2="515.50" stroke="#1a1a1a" stroke-width="0.9"/>
<line x1="484.04" y1="293.30" x2="484.04" y2="295.70" stroke="#1a1a1a" stroke-width="0.9"/>
<line x1="485.39" y1="513.30" x2="485.39" y2="515.50" stroke="#1a1a1a" stroke-width="0.9"/>
<line x1="485.39" y1="293.30" x2="485.39" y2="295.70" stroke="#1a1a1a" stroke-width="0.9"/>
<line x1="486.60" y1="513.30" x2="486.60" y2="517.30" stroke="#1a1a1a" stroke-width="1.1"/>
<line x1="486.60" y1="293.30" x2="486.60" y2="297.60" stroke="#1a1a1a" stroke-width="1.1"/>
<line x1="494.54" y1="513.30" x2="494.54" y2="515.50" stroke="#1a1a1a" stroke-width="0.9"/>
<line x1="494.54" y1="293.30" x2="494.54" y2="295.70" stroke="#1a1a1a" stroke-width="0.9"/>
<line x1="499.18" y1="513.30" x2="499.18" y2="515.50" stroke="#1a1a1a" stroke-width="0.9"/>
<line x1="499.18" y1="293.30" x2="499.18" y2="295.70" stroke="#1a1a1a" stroke-width="0.9"/>
<line x1="502.48" y1="513.30" x2="502.48" y2="515.50" stroke="#1a1a1a" stroke-width="0.9"/>
<line x1="502.48" y1="293.30" x2="502.48" y2="295.70" stroke="#1a1a1a" stroke-width="0.9"/>
<line x1="505.04" y1="513.30" x2="505.04" y2="515.50" stroke="#1a1a1a" stroke-width="0.9"/>
<line x1="505.04" y1="293.30" x2="505.04" y2="295.70" stroke="#1a1a1a" stroke-width="0.9"/>
<line x1="507.12" y1="513.30" x2="507.12" y2="515.50" stroke="#1a1a1a" stroke-width="0.9"/>
<line x1="507.12" y1="293.30" x2="507.12" y2="295.70" stroke="#1a1a1a" stroke-width="0.9"/>
<line x1="508.89" y1="513.30" x2="508.89" y2="515.50" stroke="#1a1a1a" stroke-width="0.9"/>
<line x1="508.89" y1="293.30" x2="508.89" y2="295.70" stroke="#1a1a1a" stroke-width="0.9"/>
<line x1="510.42" y1="513.30" x2="510.42" y2="515.50" stroke="#1a1a1a" stroke-width="0.9"/>
<line x1="510.42" y1="293.30" x2="510.42" y2="295.70" stroke="#1a1a1a" stroke-width="0.9"/>
<line x1="511.77" y1="513.30" x2="511.77" y2="515.50" stroke="#1a1a1a" stroke-width="0.9"/>
<line x1="511.77" y1="293.30" x2="511.77" y2="295.70" stroke="#1a1a1a" stroke-width="0.9"/>
<line x1="512.98" y1="513.30" x2="512.98" y2="517.30" stroke="#1a1a1a" stroke-width="1.1"/>
<line x1="512.98" y1="293.30" x2="512.98" y2="297.60" stroke="#1a1a1a" stroke-width="1.1"/>
<line x1="520.91" y1="513.30" x2="520.91" y2="515.50" stroke="#1a1a1a" stroke-width="0.9"/>
<line x1="520.91" y1="293.30" x2="520.91" y2="295.70" stroke="#1a1a1a" stroke-width="0.9"/>
<line x1="525.56" y1="513.30" x2="525.56" y2="515.50" stroke="#1a1a1a" stroke-width="0.9"/>
<line x1="525.56" y1="293.30" x2="525.56" y2="295.70" stroke="#1a1a1a" stroke-width="0.9"/>
<line x1="528.85" y1="513.30" x2="528.85" y2="515.50" stroke="#1a1a1a" stroke-width="0.9"/>
<line x1="528.85" y1="293.30" x2="528.85" y2="295.70" stroke="#1a1a1a" stroke-width="0.9"/>
<line x1="531.41" y1="513.30" x2="531.41" y2="515.50" stroke="#1a1a1a" stroke-width="0.9"/>
<line x1="531.41" y1="293.30" x2="531.41" y2="295.70" stroke="#1a1a1a" stroke-width="0.9"/>
<line x1="533.50" y1="513.30" x2="533.50" y2="515.50" stroke="#1a1a1a" stroke-width="0.9"/>
<line x1="533.50" y1="293.30" x2="533.50" y2="295.70" stroke="#1a1a1a" stroke-width="0.9"/>
<line x1="535.26" y1="513.30" x2="535.26" y2="515.50" stroke="#1a1a1a" stroke-width="0.9"/>
<line x1="535.26" y1="293.30" x2="535.26" y2="295.70" stroke="#1a1a1a" stroke-width="0.9"/>
<line x1="536.79" y1="513.30" x2="536.79" y2="515.50" stroke="#1a1a1a" stroke-width="0.9"/>
<line x1="536.79" y1="293.30" x2="536.79" y2="295.70" stroke="#1a1a1a" stroke-width="0.9"/>
<line x1="538.14" y1="513.30" x2="538.14" y2="515.50" stroke="#1a1a1a" stroke-width="0.9"/>
<line x1="538.14" y1="293.30" x2="538.14" y2="295.70" stroke="#1a1a1a" stroke-width="0.9"/>
<line x1="539.35" y1="513.30" x2="539.35" y2="517.30" stroke="#1a1a1a" stroke-width="1.1"/>
<line x1="539.35" y1="293.30" x2="539.35" y2="297.60" stroke="#1a1a1a" stroke-width="1.1"/>
<line x1="547.29" y1="513.30" x2="547.29" y2="515.50" stroke="#1a1a1a" stroke-width="0.9"/>
<line x1="547.29" y1="293.30" x2="547.29" y2="295.70" stroke="#1a1a1a" stroke-width="0.9"/>
<line x1="551.93" y1="513.30" x2="551.93" y2="515.50" stroke="#1a1a1a" stroke-width="0.9"/>
<line x1="551.93" y1="293.30" x2="551.93" y2="295.70" stroke="#1a1a1a" stroke-width="0.9"/>
<line x1="555.23" y1="513.30" x2="555.23" y2="515.50" stroke="#1a1a1a" stroke-width="0.9"/>
<line x1="555.23" y1="293.30" x2="555.23" y2="295.70" stroke="#1a1a1a" stroke-width="0.9"/>
<line x1="557.79" y1="513.30" x2="557.79" y2="515.50" stroke="#1a1a1a" stroke-width="0.9"/>
<line x1="557.79" y1="293.30" x2="557.79" y2="295.70" stroke="#1a1a1a" stroke-width="0.9"/>
<line x1="559.87" y1="513.30" x2="559.87" y2="515.50" stroke="#1a1a1a" stroke-width="0.9"/>
<line x1="559.87" y1="293.30" x2="559.87" y2="295.70" stroke="#1a1a1a" stroke-width="0.9"/>
<line x1="561.64" y1="513.30" x2="561.64" y2="515.50" stroke="#1a1a1a" stroke-width="0.9"/>
<line x1="561.64" y1="293.30" x2="561.64" y2="295.70" stroke="#1a1a1a" stroke-width="0.9"/>
<line x1="563.17" y1="513.30" x2="563.17" y2="515.50" stroke="#1a1a1a" stroke-width="0.9"/>
<line x1="563.17" y1="293.30" x2="563.17" y2="295.70" stroke="#1a1a1a" stroke-width="0.9"/>
<line x1="564.52" y1="513.30" x2="564.52" y2="515.50" stroke="#1a1a1a" stroke-width="0.9"/>
<line x1="564.52" y1="293.30" x2="564.52" y2="295.70" stroke="#1a1a1a" stroke-width="0.9"/>
<line x1="565.73" y1="513.30" x2="565.73" y2="517.30" stroke="#1a1a1a" stroke-width="1.1"/>
<line x1="565.73" y1="293.30" x2="565.73" y2="297.60" stroke="#1a1a1a" stroke-width="1.1"/>
<line x1="573.66" y1="513.30" x2="573.66" y2="515.50" stroke="#1a1a1a" stroke-width="0.9"/>
<line x1="573.66" y1="293.30" x2="573.66" y2="295.70" stroke="#1a1a1a" stroke-width="0.9"/>
<line x1="578.31" y1="513.30" x2="578.31" y2="515.50" stroke="#1a1a1a" stroke-width="0.9"/>
<line x1="578.31" y1="293.30" x2="578.31" y2="295.70" stroke="#1a1a1a" stroke-width="0.9"/>
<line x1="581.60" y1="513.30" x2="581.60" y2="515.50" stroke="#1a1a1a" stroke-width="0.9"/>
<line x1="581.60" y1="293.30" x2="581.60" y2="295.70" stroke="#1a1a1a" stroke-width="0.9"/>
<line x1="584.16" y1="513.30" x2="584.16" y2="515.50" stroke="#1a1a1a" stroke-width="0.9"/>
<line x1="584.16" y1="293.30" x2="584.16" y2="295.70" stroke="#1a1a1a" stroke-width="0.9"/>
<line x1="586.25" y1="513.30" x2="586.25" y2="515.50" stroke="#1a1a1a" stroke-width="0.9"/>
<line x1="586.25" y1="293.30" x2="586.25" y2="295.70" stroke="#1a1a1a" stroke-width="0.9"/>
<line x1="588.01" y1="513.30" x2="588.01" y2="515.50" stroke="#1a1a1a" stroke-width="0.9"/>
<line x1="588.01" y1="293.30" x2="588.01" y2="295.70" stroke="#1a1a1a" stroke-width="0.9"/>
<line x1="589.54" y1="513.30" x2="589.54" y2="515.50" stroke="#1a1a1a" stroke-width="0.9"/>
<line x1="589.54" y1="293.30" x2="589.54" y2="295.70" stroke="#1a1a1a" stroke-width="0.9"/>
<line x1="590.89" y1="513.30" x2="590.89" y2="515.50" stroke="#1a1a1a" stroke-width="0.9"/>
<line x1="590.89" y1="293.30" x2="590.89" y2="295.70" stroke="#1a1a1a" stroke-width="0.9"/>
<line x1="592.10" y1="513.30" x2="592.10" y2="517.30" stroke="#1a1a1a" stroke-width="1.1"/>
<line x1="592.10" y1="293.30" x2="592.10" y2="297.60" stroke="#1a1a1a" stroke-width="1.1"/>
<line x1="600.04" y1="513.30" x2="600.04" y2="515.50" stroke="#1a1a1a" stroke-width="0.9"/>
<line x1="600.04" y1="293.30" x2="600.04" y2="295.70" stroke="#1a1a1a" stroke-width="0.9"/>
<line x1="604.68" y1="513.30" x2="604.68" y2="515.50" stroke="#1a1a1a" stroke-width="0.9"/>
<line x1="604.68" y1="293.30" x2="604.68" y2="295.70" stroke="#1a1a1a" stroke-width="0.9"/>
<line x1="607.98" y1="513.30" x2="607.98" y2="515.50" stroke="#1a1a1a" stroke-width="0.9"/>
<line x1="607.98" y1="293.30" x2="607.98" y2="295.70" stroke="#1a1a1a" stroke-width="0.9"/>
<line x1="610.54" y1="513.30" x2="610.54" y2="515.50" stroke="#1a1a1a" stroke-width="0.9"/>
<line x1="610.54" y1="293.30" x2="610.54" y2="295.70" stroke="#1a1a1a" stroke-width="0.9"/>
<line x1="612.62" y1="513.30" x2="612.62" y2="515.50" stroke="#1a1a1a" stroke-width="0.9"/>
<line x1="612.62" y1="293.30" x2="612.62" y2="295.70" stroke="#1a1a1a" stroke-width="0.9"/>
<line x1="614.39" y1="513.30" x2="614.39" y2="515.50" stroke="#1a1a1a" stroke-width="0.9"/>
<line x1="614.39" y1="293.30" x2="614.39" y2="295.70" stroke="#1a1a1a" stroke-width="0.9"/>
<line x1="615.92" y1="513.30" x2="615.92" y2="515.50" stroke="#1a1a1a" stroke-width="0.9"/>
<line x1="615.92" y1="293.30" x2="615.92" y2="295.70" stroke="#1a1a1a" stroke-width="0.9"/>
<line x1="617.27" y1="513.30" x2="617.27" y2="515.50" stroke="#1a1a1a" stroke-width="0.9"/>
<line x1="617.27" y1="293.30" x2="617.27" y2="295.70" stroke="#1a1a1a" stroke-width="0.9"/>
<line x1="618.48" y1="513.30" x2="618.48" y2="517.30" stroke="#1a1a1a" stroke-width="1.1"/>
<line x1="618.48" y1="293.30" x2="618.48" y2="297.60" stroke="#1a1a1a" stroke-width="1.1"/>
<line x1="626.41" y1="513.30" x2="626.41" y2="515.50" stroke="#1a1a1a" stroke-width="0.9"/>
<line x1="626.41" y1="293.30" x2="626.41" y2="295.70" stroke="#1a1a1a" stroke-width="0.9"/>
<line x1="631.06" y1="513.30" x2="631.06" y2="515.50" stroke="#1a1a1a" stroke-width="0.9"/>
<line x1="631.06" y1="293.30" x2="631.06" y2="295.70" stroke="#1a1a1a" stroke-width="0.9"/>
<line x1="634.35" y1="513.30" x2="634.35" y2="515.50" stroke="#1a1a1a" stroke-width="0.9"/>
<line x1="634.35" y1="293.30" x2="634.35" y2="295.70" stroke="#1a1a1a" stroke-width="0.9"/>
<line x1="636.91" y1="513.30" x2="636.91" y2="515.50" stroke="#1a1a1a" stroke-width="0.9"/>
<line x1="636.91" y1="293.30" x2="636.91" y2="295.70" stroke="#1a1a1a" stroke-width="0.9"/>
<text transform="translate(381.50,529.70) scale(0.760,1)" font-size="9.6" fill="#1a1a1a" stroke="#1a1a1a" stroke-width="0.4" text-anchor="middle">10<tspan font-size="6.8" dx="0.7" dy="-3.9">9</tspan></text>
<text transform="translate(407.88,529.70) scale(0.760,1)" font-size="9.6" fill="#1a1a1a" stroke="#1a1a1a" stroke-width="0.4" text-anchor="middle">10<tspan font-size="6.8" dx="0.7" dy="-3.9">10</tspan></text>
<text transform="translate(434.25,529.70) scale(0.760,1)" font-size="9.6" fill="#1a1a1a" stroke="#1a1a1a" stroke-width="0.4" text-anchor="middle">10<tspan font-size="6.8" dx="0.7" dy="-3.9">11</tspan></text>
<text transform="translate(460.62,529.70) scale(0.760,1)" font-size="9.6" fill="#1a1a1a" stroke="#1a1a1a" stroke-width="0.4" text-anchor="middle">10<tspan font-size="6.8" dx="0.7" dy="-3.9">12</tspan></text>
<text transform="translate(487.00,529.70) scale(0.760,1)" font-size="9.6" fill="#1a1a1a" stroke="#1a1a1a" stroke-width="0.4" text-anchor="middle">10<tspan font-size="6.8" dx="0.7" dy="-3.9">13</tspan></text>
<text transform="translate(513.38,529.70) scale(0.760,1)" font-size="9.6" fill="#1a1a1a" stroke="#1a1a1a" stroke-width="0.4" text-anchor="middle">10<tspan font-size="6.8" dx="0.7" dy="-3.9">14</tspan></text>
<text transform="translate(539.75,529.70) scale(0.760,1)" font-size="9.6" fill="#1a1a1a" stroke="#1a1a1a" stroke-width="0.4" text-anchor="middle">10<tspan font-size="6.8" dx="0.7" dy="-3.9">15</tspan></text>
<text transform="translate(566.12,529.70) scale(0.760,1)" font-size="9.6" fill="#1a1a1a" stroke="#1a1a1a" stroke-width="0.4" text-anchor="middle">10<tspan font-size="6.8" dx="0.7" dy="-3.9">16</tspan></text>
<text transform="translate(592.50,529.70) scale(0.760,1)" font-size="9.6" fill="#1a1a1a" stroke="#1a1a1a" stroke-width="0.4" text-anchor="middle">10<tspan font-size="6.8" dx="0.7" dy="-3.9">17</tspan></text>
<text transform="translate(618.88,529.70) scale(0.760,1)" font-size="9.6" fill="#1a1a1a" stroke="#1a1a1a" stroke-width="0.4" text-anchor="middle">10<tspan font-size="6.8" dx="0.7" dy="-3.9">18</tspan></text>
<text transform="translate(458.80,549.80) scale(0.838,1)" font-size="11.6" fill="#1a1a1a" stroke="#1a1a1a" stroke-width="0.4" text-anchor="start">Defect density N<tspan font-size="7.5" dy="2.5">t</tspan><tspan dy="-2.5"> (cm</tspan><tspan font-size="7.8" dy="-4.2">-3</tspan><tspan dy="4.2">)</tspan></text>
<line x1="378.00" y1="319.00" x2="381.60" y2="319.00" stroke="#1a1a1a" stroke-width="1.2"/>
<text transform="translate(375.30,322.60) scale(0.800,1)" font-size="10" fill="#1a1a1a" stroke="#1a1a1a" stroke-width="0.4" text-anchor="end">87,35</text>
<line x1="378.00" y1="383.57" x2="381.60" y2="383.57" stroke="#1a1a1a" stroke-width="1.2"/>
<text transform="translate(375.30,387.17) scale(0.800,1)" font-size="10" fill="#1a1a1a" stroke="#1a1a1a" stroke-width="0.4" text-anchor="end">87,34</text>
<line x1="378.00" y1="448.13" x2="381.60" y2="448.13" stroke="#1a1a1a" stroke-width="1.2"/>
<text transform="translate(375.30,451.73) scale(0.800,1)" font-size="10" fill="#1a1a1a" stroke="#1a1a1a" stroke-width="0.4" text-anchor="end">87,33</text>
<line x1="378.00" y1="512.70" x2="381.60" y2="512.70" stroke="#1a1a1a" stroke-width="1.2"/>
<text transform="translate(375.30,516.30) scale(0.800,1)" font-size="10" fill="#1a1a1a" stroke="#1a1a1a" stroke-width="0.4" text-anchor="end">87,32</text>
<line x1="379.60" y1="351.28" x2="381.60" y2="351.28" stroke="#1a1a1a" stroke-width="1.0"/>
<line x1="379.60" y1="415.85" x2="381.60" y2="415.85" stroke="#1a1a1a" stroke-width="1.0"/>
<line x1="379.60" y1="480.42" x2="381.60" y2="480.42" stroke="#1a1a1a" stroke-width="1.0"/>
<text transform="translate(359.50,416.00) rotate(-90)" font-size="11.0" fill="#1a1a1a" stroke="#1a1a1a" stroke-width="0.4" text-anchor="middle">FF&#160; (%)</text>
<line x1="637.60" y1="293.30" x2="637.60" y2="513.30" stroke="#dc4646" stroke-width="1.3"/>
<line x1="637.60" y1="501.70" x2="641.20" y2="501.70" stroke="#dc4646" stroke-width="1.2"/>
<text transform="translate(643.60,505.30) scale(0.820,1)" font-size="10" fill="#d43535" stroke="#d43535" stroke-width="0.4" text-anchor="start">50</text>
<line x1="637.60" y1="455.38" x2="641.20" y2="455.38" stroke="#dc4646" stroke-width="1.2"/>
<text transform="translate(643.60,458.98) scale(0.820,1)" font-size="10" fill="#d43535" stroke="#d43535" stroke-width="0.4" text-anchor="start">60</text>
<line x1="637.60" y1="409.05" x2="641.20" y2="409.05" stroke="#dc4646" stroke-width="1.2"/>
<text transform="translate(643.60,412.65) scale(0.820,1)" font-size="10" fill="#d43535" stroke="#d43535" stroke-width="0.4" text-anchor="start">70</text>
<line x1="637.60" y1="362.72" x2="641.20" y2="362.72" stroke="#dc4646" stroke-width="1.2"/>
<text transform="translate(643.60,366.32) scale(0.820,1)" font-size="10" fill="#d43535" stroke="#d43535" stroke-width="0.4" text-anchor="start">80</text>
<line x1="637.60" y1="316.40" x2="641.20" y2="316.40" stroke="#dc4646" stroke-width="1.2"/>
<text transform="translate(643.60,320.00) scale(0.820,1)" font-size="10" fill="#d43535" stroke="#d43535" stroke-width="0.4" text-anchor="start">90</text>
<line x1="637.60" y1="478.54" x2="639.60" y2="478.54" stroke="#dc4646" stroke-width="1.0"/>
<line x1="637.60" y1="432.21" x2="639.60" y2="432.21" stroke="#dc4646" stroke-width="1.0"/>
<line x1="637.60" y1="385.89" x2="639.60" y2="385.89" stroke="#dc4646" stroke-width="1.0"/>
<line x1="637.60" y1="339.56" x2="639.60" y2="339.56" stroke="#dc4646" stroke-width="1.0"/>
<line x1="637.60" y1="293.24" x2="639.60" y2="293.24" stroke="#dc4646" stroke-width="1.0"/>
<line x1="657.80" y1="293.30" x2="657.80" y2="513.30" stroke="#5050d2" stroke-width="1.3"/>
<line x1="657.80" y1="513.30" x2="661.40" y2="513.30" stroke="#5050d2" stroke-width="1.2"/>
<text transform="translate(663.80,516.90) scale(0.800,1)" font-size="10" fill="#3636cc" stroke="#3636cc" stroke-width="0.4" text-anchor="start">86,8</text>
<line x1="657.80" y1="445.53" x2="661.40" y2="445.53" stroke="#5050d2" stroke-width="1.2"/>
<text transform="translate(663.80,449.13) scale(0.800,1)" font-size="10" fill="#3636cc" stroke="#3636cc" stroke-width="0.4" text-anchor="start">87,0</text>
<line x1="657.80" y1="377.77" x2="661.40" y2="377.77" stroke="#5050d2" stroke-width="1.2"/>
<text transform="translate(663.80,381.37) scale(0.800,1)" font-size="10" fill="#3636cc" stroke="#3636cc" stroke-width="0.4" text-anchor="start">87,2</text>
<line x1="657.80" y1="310.00" x2="661.40" y2="310.00" stroke="#5050d2" stroke-width="1.2"/>
<text transform="translate(663.80,313.60) scale(0.800,1)" font-size="10" fill="#3636cc" stroke="#3636cc" stroke-width="0.4" text-anchor="start">87,4</text>
<line x1="657.80" y1="479.42" x2="659.80" y2="479.42" stroke="#5050d2" stroke-width="1.0"/>
<line x1="657.80" y1="411.65" x2="659.80" y2="411.65" stroke="#5050d2" stroke-width="1.0"/>
<line x1="657.80" y1="343.88" x2="659.80" y2="343.88" stroke="#5050d2" stroke-width="1.0"/>
<polyline points="407.48,326.80 433.85,326.80 460.23,326.80 486.60,326.80 512.98,326.80 539.35,326.80 565.73,326.80 592.10,334.50 618.48,402.30" fill="none" stroke="#1c1c1c" stroke-width="1.5" stroke-linejoin="round"/>
<polyline points="407.48,328.70 433.85,328.70 460.23,328.70 486.60,333.80 512.98,352.00 539.35,386.60 565.73,427.30 592.10,467.80 618.48,489.10" fill="none" stroke="#e22a2a" stroke-width="1.5" stroke-linejoin="round"/>
<g opacity="0.8">
<polyline points="407.48,326.50 433.85,326.50 460.23,326.50 486.60,326.50 512.98,326.50 539.35,326.50 565.73,326.50 592.10,327.20 618.48,330.10" fill="none" stroke="#1414e6" stroke-width="1.5" stroke-linejoin="round"/>
</g>
<ellipse cx="407.48" cy="326.80" rx="2.45" ry="3.05" fill="url(#blk)"/>
<ellipse cx="433.85" cy="326.80" rx="2.45" ry="3.05" fill="url(#blk)"/>
<ellipse cx="460.23" cy="326.80" rx="2.45" ry="3.05" fill="url(#blk)"/>
<ellipse cx="486.60" cy="326.80" rx="2.45" ry="3.05" fill="url(#blk)"/>
<ellipse cx="512.98" cy="326.80" rx="2.45" ry="3.05" fill="url(#blk)"/>
<ellipse cx="539.35" cy="326.80" rx="2.45" ry="3.05" fill="url(#blk)"/>
<ellipse cx="565.73" cy="326.80" rx="2.45" ry="3.05" fill="url(#blk)"/>
<ellipse cx="592.10" cy="334.50" rx="2.45" ry="3.05" fill="url(#blk)"/>
<ellipse cx="618.48" cy="402.30" rx="2.45" ry="3.05" fill="url(#blk)"/>
<ellipse cx="407.48" cy="328.70" rx="2.45" ry="3.05" fill="url(#red)"/>
<ellipse cx="433.85" cy="328.70" rx="2.45" ry="3.05" fill="url(#red)"/>
<ellipse cx="460.23" cy="328.70" rx="2.45" ry="3.05" fill="url(#red)"/>
<ellipse cx="486.60" cy="333.80" rx="2.45" ry="3.05" fill="url(#red)"/>
<ellipse cx="512.98" cy="352.00" rx="2.45" ry="3.05" fill="url(#red)"/>
<ellipse cx="539.35" cy="386.60" rx="2.45" ry="3.05" fill="url(#red)"/>
<ellipse cx="565.73" cy="427.30" rx="2.45" ry="3.05" fill="url(#red)"/>
<ellipse cx="592.10" cy="467.80" rx="2.45" ry="3.05" fill="url(#red)"/>
<ellipse cx="618.48" cy="489.10" rx="2.45" ry="3.05" fill="url(#red)"/>
<ellipse cx="407.48" cy="326.50" rx="2.45" ry="3.05" fill="url(#blu)"/>
<ellipse cx="433.85" cy="326.50" rx="2.45" ry="3.05" fill="url(#blu)"/>
<ellipse cx="460.23" cy="326.50" rx="2.45" ry="3.05" fill="url(#blu)"/>
<ellipse cx="486.60" cy="326.50" rx="2.45" ry="3.05" fill="url(#blu)"/>
<ellipse cx="512.98" cy="326.50" rx="2.45" ry="3.05" fill="url(#blu)"/>
<ellipse cx="539.35" cy="326.50" rx="2.45" ry="3.05" fill="url(#blu)"/>
<ellipse cx="565.73" cy="326.50" rx="2.45" ry="3.05" fill="url(#blu)"/>
<ellipse cx="592.10" cy="327.20" rx="2.45" ry="3.05" fill="url(#blu)"/>
<ellipse cx="618.48" cy="330.10" rx="2.45" ry="3.05" fill="url(#blu)"/>
<line x1="385.00" y1="474.40" x2="402.50" y2="474.40" stroke="#1c1c1c" stroke-width="1.3"/>
<ellipse cx="393.75" cy="474.40" rx="2.3" ry="2.8" fill="url(#blk)"/>
<text transform="translate(403.70,477.70) scale(0.860,1)" font-size="9.2" fill="#1a1a1a" stroke="#1a1a1a" stroke-width="0.4" text-anchor="start">N<tspan font-size="5.8" dy="2.2">t</tspan><tspan dy="-2.2"> </tspan> ETL(SnS<tspan font-size="5.8" dy="2.2">2</tspan><tspan dy="-2.2">)</tspan></text>
<line x1="385.00" y1="488.80" x2="402.50" y2="488.80" stroke="#e02424" stroke-width="1.3"/>
<ellipse cx="393.75" cy="488.80" rx="2.3" ry="2.8" fill="url(#red)"/>
<text transform="translate(403.70,492.10) scale(0.860,1)" font-size="9.2" fill="#1a1a1a" stroke="#1a1a1a" stroke-width="0.4" text-anchor="start">N<tspan font-size="5.8" dy="2.2">t</tspan><tspan dy="-2.2"> </tspan> Absorber layer(CMTS)</text>
<line x1="385.00" y1="503.20" x2="402.50" y2="503.20" stroke="#1414e6" stroke-width="1.3"/>
<ellipse cx="393.75" cy="503.20" rx="2.3" ry="2.8" fill="url(#blu)"/>
<text transform="translate(403.70,506.50) scale(0.860,1)" font-size="9.2" fill="#1a1a1a" stroke="#1a1a1a" stroke-width="0.4" text-anchor="start">N<tspan font-size="5.8" dy="2.2">t</tspan><tspan dy="-2.2"> </tspan> HTL(CZTS)</text>
</g>
</svg>
</body></html>
